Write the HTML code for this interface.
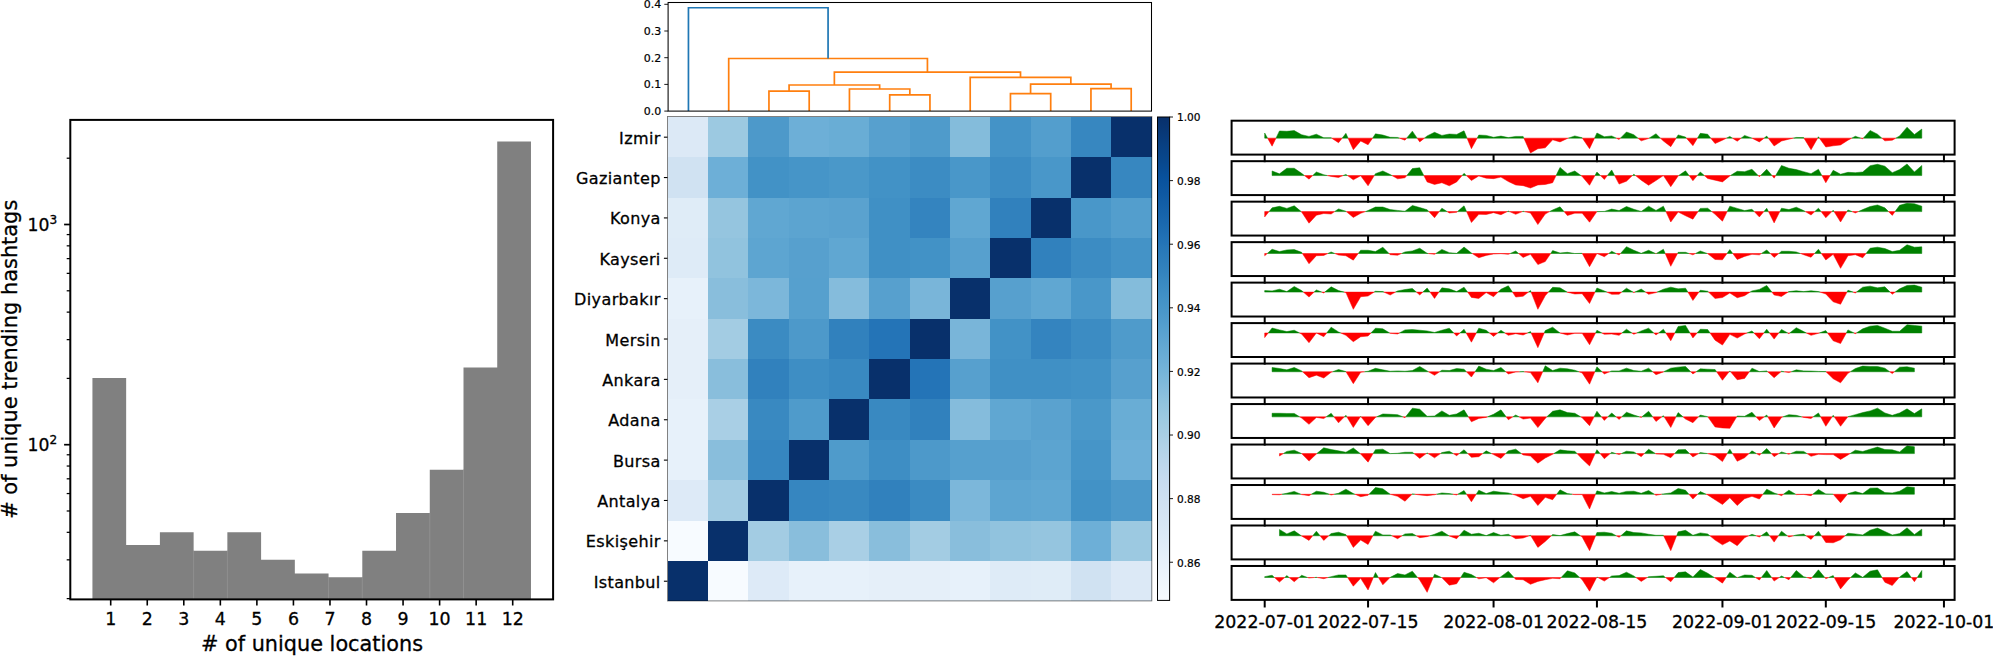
<!DOCTYPE html>
<html><head><meta charset="utf-8"><title>figure</title>
<style>html,body{margin:0;padding:0;background:#fff}svg{display:block}text{fill:#000;stroke:#000;stroke-width:0.3px}</style>
</head><body><svg width="1993" height="656" viewBox="0 0 1993 656"><path d="M92.43 599.40L92.43 377.94L126.16 377.94L126.16 545.10L159.90 545.10L159.90 532.33L193.63 532.33L193.63 550.72L227.36 550.72L227.36 532.33L261.10 532.33L261.10 559.84L294.83 559.84L294.83 573.52L328.56 573.52L328.56 577.27L362.30 577.27L362.30 550.72L396.03 550.72L396.03 512.92L429.77 512.92L429.77 469.69L463.50 469.69L463.50 367.58L497.23 367.58L497.23 141.58L530.97 141.58L530.97 599.40Z" fill="#808080"/>
<line x1="193.63" x2="193.63" y1="550.72" y2="599.40" stroke="#9a9a9a" stroke-width="0.6"/>
<line x1="227.36" x2="227.36" y1="550.72" y2="599.40" stroke="#9a9a9a" stroke-width="0.6"/>
<line x1="328.56" x2="328.56" y1="577.27" y2="599.40" stroke="#9a9a9a" stroke-width="0.6"/>
<line x1="362.30" x2="362.30" y1="577.27" y2="599.40" stroke="#9a9a9a" stroke-width="0.6"/>
<line x1="429.77" x2="429.77" y1="512.92" y2="599.40" stroke="#9a9a9a" stroke-width="0.6"/>
<line x1="463.50" x2="463.50" y1="469.69" y2="599.40" stroke="#9a9a9a" stroke-width="0.6"/>
<line x1="110.70" x2="110.70" y1="599.40" y2="605.50" stroke="#000" stroke-width="1.6"/>
<text x="110.70" y="624.9" font-size="17.4" text-anchor="middle" font-family="DejaVu Sans, Liberation Sans, sans-serif">1</text>
<line x1="147.25" x2="147.25" y1="599.40" y2="605.50" stroke="#000" stroke-width="1.6"/>
<text x="147.25" y="624.9" font-size="17.4" text-anchor="middle" font-family="DejaVu Sans, Liberation Sans, sans-serif">2</text>
<line x1="183.79" x2="183.79" y1="599.40" y2="605.50" stroke="#000" stroke-width="1.6"/>
<text x="183.79" y="624.9" font-size="17.4" text-anchor="middle" font-family="DejaVu Sans, Liberation Sans, sans-serif">3</text>
<line x1="220.34" x2="220.34" y1="599.40" y2="605.50" stroke="#000" stroke-width="1.6"/>
<text x="220.34" y="624.9" font-size="17.4" text-anchor="middle" font-family="DejaVu Sans, Liberation Sans, sans-serif">4</text>
<line x1="256.88" x2="256.88" y1="599.40" y2="605.50" stroke="#000" stroke-width="1.6"/>
<text x="256.88" y="624.9" font-size="17.4" text-anchor="middle" font-family="DejaVu Sans, Liberation Sans, sans-serif">5</text>
<line x1="293.43" x2="293.43" y1="599.40" y2="605.50" stroke="#000" stroke-width="1.6"/>
<text x="293.43" y="624.9" font-size="17.4" text-anchor="middle" font-family="DejaVu Sans, Liberation Sans, sans-serif">6</text>
<line x1="329.97" x2="329.97" y1="599.40" y2="605.50" stroke="#000" stroke-width="1.6"/>
<text x="329.97" y="624.9" font-size="17.4" text-anchor="middle" font-family="DejaVu Sans, Liberation Sans, sans-serif">7</text>
<line x1="366.51" x2="366.51" y1="599.40" y2="605.50" stroke="#000" stroke-width="1.6"/>
<text x="366.51" y="624.9" font-size="17.4" text-anchor="middle" font-family="DejaVu Sans, Liberation Sans, sans-serif">8</text>
<line x1="403.06" x2="403.06" y1="599.40" y2="605.50" stroke="#000" stroke-width="1.6"/>
<text x="403.06" y="624.9" font-size="17.4" text-anchor="middle" font-family="DejaVu Sans, Liberation Sans, sans-serif">9</text>
<line x1="439.61" x2="439.61" y1="599.40" y2="605.50" stroke="#000" stroke-width="1.6"/>
<text x="439.61" y="624.9" font-size="17.4" text-anchor="middle" font-family="DejaVu Sans, Liberation Sans, sans-serif">10</text>
<line x1="476.15" x2="476.15" y1="599.40" y2="605.50" stroke="#000" stroke-width="1.6"/>
<text x="476.15" y="624.9" font-size="17.4" text-anchor="middle" font-family="DejaVu Sans, Liberation Sans, sans-serif">11</text>
<line x1="512.70" x2="512.70" y1="599.40" y2="605.50" stroke="#000" stroke-width="1.6"/>
<text x="512.70" y="624.9" font-size="17.4" text-anchor="middle" font-family="DejaVu Sans, Liberation Sans, sans-serif">12</text>
<line x1="64.10" x2="70.30" y1="444.70" y2="444.70" stroke="#000" stroke-width="1.7"/>
<text x="27.6" y="451.00" font-size="17.2" font-family="DejaVu Sans, Liberation Sans, sans-serif">10<tspan dy="-6.6" font-size="12.1">2</tspan></text>
<line x1="64.10" x2="70.30" y1="224.50" y2="224.50" stroke="#000" stroke-width="1.7"/>
<text x="27.6" y="230.80" font-size="17.2" font-family="DejaVu Sans, Liberation Sans, sans-serif">10<tspan dy="-6.6" font-size="12.1">3</tspan></text>
<line x1="66.70" x2="70.30" y1="598.61" y2="598.61" stroke="#000" stroke-width="1.25"/>
<line x1="66.70" x2="70.30" y1="559.84" y2="559.84" stroke="#000" stroke-width="1.25"/>
<line x1="66.70" x2="70.30" y1="532.33" y2="532.33" stroke="#000" stroke-width="1.25"/>
<line x1="66.70" x2="70.30" y1="510.99" y2="510.99" stroke="#000" stroke-width="1.25"/>
<line x1="66.70" x2="70.30" y1="493.55" y2="493.55" stroke="#000" stroke-width="1.25"/>
<line x1="66.70" x2="70.30" y1="478.81" y2="478.81" stroke="#000" stroke-width="1.25"/>
<line x1="66.70" x2="70.30" y1="466.04" y2="466.04" stroke="#000" stroke-width="1.25"/>
<line x1="66.70" x2="70.30" y1="454.78" y2="454.78" stroke="#000" stroke-width="1.25"/>
<line x1="66.70" x2="70.30" y1="378.41" y2="378.41" stroke="#000" stroke-width="1.25"/>
<line x1="66.70" x2="70.30" y1="339.64" y2="339.64" stroke="#000" stroke-width="1.25"/>
<line x1="66.70" x2="70.30" y1="312.13" y2="312.13" stroke="#000" stroke-width="1.25"/>
<line x1="66.70" x2="70.30" y1="290.79" y2="290.79" stroke="#000" stroke-width="1.25"/>
<line x1="66.70" x2="70.30" y1="273.35" y2="273.35" stroke="#000" stroke-width="1.25"/>
<line x1="66.70" x2="70.30" y1="258.61" y2="258.61" stroke="#000" stroke-width="1.25"/>
<line x1="66.70" x2="70.30" y1="245.84" y2="245.84" stroke="#000" stroke-width="1.25"/>
<line x1="66.70" x2="70.30" y1="234.58" y2="234.58" stroke="#000" stroke-width="1.25"/>
<line x1="66.70" x2="70.30" y1="158.21" y2="158.21" stroke="#000" stroke-width="1.25"/>
<rect x="70.30" y="119.90" width="482.80" height="479.50" fill="none" stroke="#000" stroke-width="2.0"/>
<text x="312" y="650.7" font-size="20.8" text-anchor="middle" font-family="DejaVu Sans, Liberation Sans, sans-serif"># of unique locations</text>
<text transform="translate(16.9,359.3) rotate(-90)" font-size="20.9" text-anchor="middle" font-family="DejaVu Sans, Liberation Sans, sans-serif"># of unique trending hashtags</text>
<path d="M768.95 111.10V91.10H809.20V111.10" fill="none" stroke="#ff7f0e" stroke-width="1.7" stroke-linejoin="miter"/>
<path d="M889.70 111.10V94.89H929.95V111.10" fill="none" stroke="#ff7f0e" stroke-width="1.7" stroke-linejoin="miter"/>
<path d="M849.45 111.10V88.99H909.83V94.89" fill="none" stroke="#ff7f0e" stroke-width="1.7" stroke-linejoin="miter"/>
<path d="M789.08 91.10V85.01H879.64V88.99" fill="none" stroke="#ff7f0e" stroke-width="1.7" stroke-linejoin="miter"/>
<path d="M1010.45 111.10V93.58H1050.70V111.10" fill="none" stroke="#ff7f0e" stroke-width="1.7" stroke-linejoin="miter"/>
<path d="M1090.95 111.10V88.62H1131.20V111.10" fill="none" stroke="#ff7f0e" stroke-width="1.7" stroke-linejoin="miter"/>
<path d="M1030.58 93.58V84.05H1111.08V88.62" fill="none" stroke="#ff7f0e" stroke-width="1.7" stroke-linejoin="miter"/>
<path d="M970.20 111.10V77.40H1070.83V84.05" fill="none" stroke="#ff7f0e" stroke-width="1.7" stroke-linejoin="miter"/>
<path d="M834.36 85.01V72.20H1020.51V77.40" fill="none" stroke="#ff7f0e" stroke-width="1.7" stroke-linejoin="miter"/>
<path d="M728.70 111.10V58.50H927.43V72.20" fill="none" stroke="#ff7f0e" stroke-width="1.7" stroke-linejoin="miter"/>
<path d="M688.45 111.10V7.77H828.07V58.50" fill="none" stroke="#1f77b4" stroke-width="1.7" stroke-linejoin="miter"/>
<rect x="668.10" y="2.50" width="483.40" height="108.60" fill="none" stroke="#000" stroke-width="1.05"/>
<line x1="664.30" x2="668.10" y1="111.10" y2="111.10" stroke="#000" stroke-width="0.9"/>
<text x="661.20" y="115.10" font-size="11" style="stroke-width:0.2px" text-anchor="end" font-family="DejaVu Sans, Liberation Sans, sans-serif">0.0</text>
<line x1="664.30" x2="668.10" y1="84.40" y2="84.40" stroke="#000" stroke-width="0.9"/>
<text x="661.20" y="88.40" font-size="11" style="stroke-width:0.2px" text-anchor="end" font-family="DejaVu Sans, Liberation Sans, sans-serif">0.1</text>
<line x1="664.30" x2="668.10" y1="57.70" y2="57.70" stroke="#000" stroke-width="0.9"/>
<text x="661.20" y="61.70" font-size="11" style="stroke-width:0.2px" text-anchor="end" font-family="DejaVu Sans, Liberation Sans, sans-serif">0.2</text>
<line x1="664.30" x2="668.10" y1="31.00" y2="31.00" stroke="#000" stroke-width="0.9"/>
<text x="661.20" y="35.00" font-size="11" style="stroke-width:0.2px" text-anchor="end" font-family="DejaVu Sans, Liberation Sans, sans-serif">0.3</text>
<line x1="664.30" x2="668.10" y1="4.30" y2="4.30" stroke="#000" stroke-width="0.9"/>
<text x="661.20" y="8.30" font-size="11" style="stroke-width:0.2px" text-anchor="end" font-family="DejaVu Sans, Liberation Sans, sans-serif">0.4</text>
<g shape-rendering="crispEdges"><rect x="667.50" y="560.53" width="40.76" height="40.77" fill="#08306b"/><rect x="707.86" y="560.53" width="40.76" height="40.77" fill="#f7fbff"/><rect x="748.22" y="560.53" width="40.76" height="40.77" fill="#ddeaf7"/><rect x="788.58" y="560.53" width="40.76" height="40.77" fill="#e7f1fa"/><rect x="828.93" y="560.53" width="40.76" height="40.77" fill="#e7f1fa"/><rect x="869.29" y="560.53" width="40.76" height="40.77" fill="#e5eff9"/><rect x="909.65" y="560.53" width="40.76" height="40.77" fill="#e5eff9"/><rect x="950.01" y="560.53" width="40.76" height="40.77" fill="#e7f1fa"/><rect x="990.37" y="560.53" width="40.76" height="40.77" fill="#deebf7"/><rect x="1030.72" y="560.53" width="40.76" height="40.77" fill="#dfecf7"/><rect x="1071.08" y="560.53" width="40.76" height="40.77" fill="#d0e2f2"/><rect x="1111.44" y="560.53" width="40.76" height="40.77" fill="#dce9f6"/><rect x="667.50" y="520.17" width="40.76" height="40.77" fill="#f7fbff"/><rect x="707.86" y="520.17" width="40.76" height="40.77" fill="#08306b"/><rect x="748.22" y="520.17" width="40.76" height="40.77" fill="#a3cce3"/><rect x="788.58" y="520.17" width="40.76" height="40.77" fill="#89bedc"/><rect x="828.93" y="520.17" width="40.76" height="40.77" fill="#a9cfe5"/><rect x="869.29" y="520.17" width="40.76" height="40.77" fill="#89bedc"/><rect x="909.65" y="520.17" width="40.76" height="40.77" fill="#a3cce3"/><rect x="950.01" y="520.17" width="40.76" height="40.77" fill="#89bedc"/><rect x="990.37" y="520.17" width="40.76" height="40.77" fill="#91c3de"/><rect x="1030.72" y="520.17" width="40.76" height="40.77" fill="#95c5df"/><rect x="1071.08" y="520.17" width="40.76" height="40.77" fill="#6dafd7"/><rect x="1111.44" y="520.17" width="40.76" height="40.77" fill="#9cc9e1"/><rect x="667.50" y="479.80" width="40.76" height="40.77" fill="#ddeaf7"/><rect x="707.86" y="479.80" width="40.76" height="40.77" fill="#a3cce3"/><rect x="748.22" y="479.80" width="40.76" height="40.77" fill="#08306b"/><rect x="788.58" y="479.80" width="40.76" height="40.77" fill="#3686c0"/><rect x="828.93" y="479.80" width="40.76" height="40.77" fill="#3989c1"/><rect x="869.29" y="479.80" width="40.76" height="40.77" fill="#3181bd"/><rect x="909.65" y="479.80" width="40.76" height="40.77" fill="#3b8bc2"/><rect x="950.01" y="479.80" width="40.76" height="40.77" fill="#7cb7da"/><rect x="990.37" y="479.80" width="40.76" height="40.77" fill="#5da5d1"/><rect x="1030.72" y="479.80" width="40.76" height="40.77" fill="#60a7d2"/><rect x="1071.08" y="479.80" width="40.76" height="40.77" fill="#4292c6"/><rect x="1111.44" y="479.80" width="40.76" height="40.77" fill="#4d99ca"/><rect x="667.50" y="439.43" width="40.76" height="40.77" fill="#e7f1fa"/><rect x="707.86" y="439.43" width="40.76" height="40.77" fill="#89bedc"/><rect x="748.22" y="439.43" width="40.76" height="40.77" fill="#3686c0"/><rect x="788.58" y="439.43" width="40.76" height="40.77" fill="#08306b"/><rect x="828.93" y="439.43" width="40.76" height="40.77" fill="#4f9bcb"/><rect x="869.29" y="439.43" width="40.76" height="40.77" fill="#3e8ec4"/><rect x="909.65" y="439.43" width="40.76" height="40.77" fill="#4d99ca"/><rect x="950.01" y="439.43" width="40.76" height="40.77" fill="#56a0ce"/><rect x="990.37" y="439.43" width="40.76" height="40.77" fill="#57a0ce"/><rect x="1030.72" y="439.43" width="40.76" height="40.77" fill="#5ca4d0"/><rect x="1071.08" y="439.43" width="40.76" height="40.77" fill="#4695c8"/><rect x="1111.44" y="439.43" width="40.76" height="40.77" fill="#6dafd7"/><rect x="667.50" y="399.07" width="40.76" height="40.77" fill="#e7f1fa"/><rect x="707.86" y="399.07" width="40.76" height="40.77" fill="#a9cfe5"/><rect x="748.22" y="399.07" width="40.76" height="40.77" fill="#3989c1"/><rect x="788.58" y="399.07" width="40.76" height="40.77" fill="#4f9bcb"/><rect x="828.93" y="399.07" width="40.76" height="40.77" fill="#08306b"/><rect x="869.29" y="399.07" width="40.76" height="40.77" fill="#3989c1"/><rect x="909.65" y="399.07" width="40.76" height="40.77" fill="#3181bd"/><rect x="950.01" y="399.07" width="40.76" height="40.77" fill="#85bcdc"/><rect x="990.37" y="399.07" width="40.76" height="40.77" fill="#60a7d2"/><rect x="1030.72" y="399.07" width="40.76" height="40.77" fill="#5aa2cf"/><rect x="1071.08" y="399.07" width="40.76" height="40.77" fill="#4a98c9"/><rect x="1111.44" y="399.07" width="40.76" height="40.77" fill="#69add5"/><rect x="667.50" y="358.70" width="40.76" height="40.77" fill="#e5eff9"/><rect x="707.86" y="358.70" width="40.76" height="40.77" fill="#89bedc"/><rect x="748.22" y="358.70" width="40.76" height="40.77" fill="#3181bd"/><rect x="788.58" y="358.70" width="40.76" height="40.77" fill="#3e8ec4"/><rect x="828.93" y="358.70" width="40.76" height="40.77" fill="#3989c1"/><rect x="869.29" y="358.70" width="40.76" height="40.77" fill="#08306b"/><rect x="909.65" y="358.70" width="40.76" height="40.77" fill="#2474b7"/><rect x="950.01" y="358.70" width="40.76" height="40.77" fill="#57a0ce"/><rect x="990.37" y="358.70" width="40.76" height="40.77" fill="#4090c5"/><rect x="1030.72" y="358.70" width="40.76" height="40.77" fill="#4090c5"/><rect x="1071.08" y="358.70" width="40.76" height="40.77" fill="#4292c6"/><rect x="1111.44" y="358.70" width="40.76" height="40.77" fill="#57a0ce"/><rect x="667.50" y="318.33" width="40.76" height="40.77" fill="#e5eff9"/><rect x="707.86" y="318.33" width="40.76" height="40.77" fill="#a3cce3"/><rect x="748.22" y="318.33" width="40.76" height="40.77" fill="#3b8bc2"/><rect x="788.58" y="318.33" width="40.76" height="40.77" fill="#4d99ca"/><rect x="828.93" y="318.33" width="40.76" height="40.77" fill="#3181bd"/><rect x="869.29" y="318.33" width="40.76" height="40.77" fill="#2474b7"/><rect x="909.65" y="318.33" width="40.76" height="40.77" fill="#08306b"/><rect x="950.01" y="318.33" width="40.76" height="40.77" fill="#79b5d9"/><rect x="990.37" y="318.33" width="40.76" height="40.77" fill="#4292c6"/><rect x="1030.72" y="318.33" width="40.76" height="40.77" fill="#3484bf"/><rect x="1071.08" y="318.33" width="40.76" height="40.77" fill="#3c8cc3"/><rect x="1111.44" y="318.33" width="40.76" height="40.77" fill="#4f9bcb"/><rect x="667.50" y="277.97" width="40.76" height="40.77" fill="#e7f1fa"/><rect x="707.86" y="277.97" width="40.76" height="40.77" fill="#89bedc"/><rect x="748.22" y="277.97" width="40.76" height="40.77" fill="#7cb7da"/><rect x="788.58" y="277.97" width="40.76" height="40.77" fill="#56a0ce"/><rect x="828.93" y="277.97" width="40.76" height="40.77" fill="#85bcdc"/><rect x="869.29" y="277.97" width="40.76" height="40.77" fill="#57a0ce"/><rect x="909.65" y="277.97" width="40.76" height="40.77" fill="#79b5d9"/><rect x="950.01" y="277.97" width="40.76" height="40.77" fill="#08306b"/><rect x="990.37" y="277.97" width="40.76" height="40.77" fill="#57a0ce"/><rect x="1030.72" y="277.97" width="40.76" height="40.77" fill="#60a7d2"/><rect x="1071.08" y="277.97" width="40.76" height="40.77" fill="#4997c9"/><rect x="1111.44" y="277.97" width="40.76" height="40.77" fill="#84bcdb"/><rect x="667.50" y="237.60" width="40.76" height="40.77" fill="#deebf7"/><rect x="707.86" y="237.60" width="40.76" height="40.77" fill="#91c3de"/><rect x="748.22" y="237.60" width="40.76" height="40.77" fill="#5da5d1"/><rect x="788.58" y="237.60" width="40.76" height="40.77" fill="#57a0ce"/><rect x="828.93" y="237.60" width="40.76" height="40.77" fill="#60a7d2"/><rect x="869.29" y="237.60" width="40.76" height="40.77" fill="#4090c5"/><rect x="909.65" y="237.60" width="40.76" height="40.77" fill="#4292c6"/><rect x="950.01" y="237.60" width="40.76" height="40.77" fill="#57a0ce"/><rect x="990.37" y="237.60" width="40.76" height="40.77" fill="#08306b"/><rect x="1030.72" y="237.60" width="40.76" height="40.77" fill="#3181bd"/><rect x="1071.08" y="237.60" width="40.76" height="40.77" fill="#3c8cc3"/><rect x="1111.44" y="237.60" width="40.76" height="40.77" fill="#4493c7"/><rect x="667.50" y="197.23" width="40.76" height="40.77" fill="#dfecf7"/><rect x="707.86" y="197.23" width="40.76" height="40.77" fill="#95c5df"/><rect x="748.22" y="197.23" width="40.76" height="40.77" fill="#60a7d2"/><rect x="788.58" y="197.23" width="40.76" height="40.77" fill="#5ca4d0"/><rect x="828.93" y="197.23" width="40.76" height="40.77" fill="#5aa2cf"/><rect x="869.29" y="197.23" width="40.76" height="40.77" fill="#4090c5"/><rect x="909.65" y="197.23" width="40.76" height="40.77" fill="#3484bf"/><rect x="950.01" y="197.23" width="40.76" height="40.77" fill="#60a7d2"/><rect x="990.37" y="197.23" width="40.76" height="40.77" fill="#3181bd"/><rect x="1030.72" y="197.23" width="40.76" height="40.77" fill="#08306b"/><rect x="1071.08" y="197.23" width="40.76" height="40.77" fill="#4997c9"/><rect x="1111.44" y="197.23" width="40.76" height="40.77" fill="#539ecd"/><rect x="667.50" y="156.87" width="40.76" height="40.77" fill="#d0e2f2"/><rect x="707.86" y="156.87" width="40.76" height="40.77" fill="#6dafd7"/><rect x="748.22" y="156.87" width="40.76" height="40.77" fill="#4292c6"/><rect x="788.58" y="156.87" width="40.76" height="40.77" fill="#4695c8"/><rect x="828.93" y="156.87" width="40.76" height="40.77" fill="#4a98c9"/><rect x="869.29" y="156.87" width="40.76" height="40.77" fill="#4292c6"/><rect x="909.65" y="156.87" width="40.76" height="40.77" fill="#3c8cc3"/><rect x="950.01" y="156.87" width="40.76" height="40.77" fill="#4997c9"/><rect x="990.37" y="156.87" width="40.76" height="40.77" fill="#3c8cc3"/><rect x="1030.72" y="156.87" width="40.76" height="40.77" fill="#4997c9"/><rect x="1071.08" y="156.87" width="40.76" height="40.77" fill="#08306b"/><rect x="1111.44" y="156.87" width="40.76" height="40.77" fill="#3787c0"/><rect x="667.50" y="116.50" width="40.76" height="40.77" fill="#dce9f6"/><rect x="707.86" y="116.50" width="40.76" height="40.77" fill="#9cc9e1"/><rect x="748.22" y="116.50" width="40.76" height="40.77" fill="#4d99ca"/><rect x="788.58" y="116.50" width="40.76" height="40.77" fill="#6dafd7"/><rect x="828.93" y="116.50" width="40.76" height="40.77" fill="#69add5"/><rect x="869.29" y="116.50" width="40.76" height="40.77" fill="#57a0ce"/><rect x="909.65" y="116.50" width="40.76" height="40.77" fill="#4f9bcb"/><rect x="950.01" y="116.50" width="40.76" height="40.77" fill="#84bcdb"/><rect x="990.37" y="116.50" width="40.76" height="40.77" fill="#4493c7"/><rect x="1030.72" y="116.50" width="40.76" height="40.77" fill="#539ecd"/><rect x="1071.08" y="116.50" width="40.76" height="40.77" fill="#3787c0"/><rect x="1111.44" y="116.50" width="40.76" height="40.77" fill="#08306b"/></g>
<rect x="667.50" y="116.50" width="484.30" height="484.40" fill="none" stroke="#000" stroke-opacity="0.55" stroke-width="0.9"/>
<line x1="663.90" x2="667.50" y1="581.22" y2="581.22" stroke="#000" stroke-width="1.1"/>
<text x="660.70" y="587.72" font-size="16" letter-spacing="0.37" text-anchor="end" font-family="DejaVu Sans, Liberation Sans, sans-serif">Istanbul</text>
<line x1="663.90" x2="667.50" y1="540.85" y2="540.85" stroke="#000" stroke-width="1.1"/>
<text x="660.70" y="547.35" font-size="16" letter-spacing="0.37" text-anchor="end" font-family="DejaVu Sans, Liberation Sans, sans-serif">Eskişehir</text>
<line x1="663.90" x2="667.50" y1="500.48" y2="500.48" stroke="#000" stroke-width="1.1"/>
<text x="660.70" y="506.98" font-size="16" letter-spacing="0.37" text-anchor="end" font-family="DejaVu Sans, Liberation Sans, sans-serif">Antalya</text>
<line x1="663.90" x2="667.50" y1="460.12" y2="460.12" stroke="#000" stroke-width="1.1"/>
<text x="660.70" y="466.62" font-size="16" letter-spacing="0.37" text-anchor="end" font-family="DejaVu Sans, Liberation Sans, sans-serif">Bursa</text>
<line x1="663.90" x2="667.50" y1="419.75" y2="419.75" stroke="#000" stroke-width="1.1"/>
<text x="660.70" y="426.25" font-size="16" letter-spacing="0.37" text-anchor="end" font-family="DejaVu Sans, Liberation Sans, sans-serif">Adana</text>
<line x1="663.90" x2="667.50" y1="379.38" y2="379.38" stroke="#000" stroke-width="1.1"/>
<text x="660.70" y="385.88" font-size="16" letter-spacing="0.37" text-anchor="end" font-family="DejaVu Sans, Liberation Sans, sans-serif">Ankara</text>
<line x1="663.90" x2="667.50" y1="339.02" y2="339.02" stroke="#000" stroke-width="1.1"/>
<text x="660.70" y="345.52" font-size="16" letter-spacing="0.37" text-anchor="end" font-family="DejaVu Sans, Liberation Sans, sans-serif">Mersin</text>
<line x1="663.90" x2="667.50" y1="298.65" y2="298.65" stroke="#000" stroke-width="1.1"/>
<text x="660.70" y="305.15" font-size="16" letter-spacing="0.37" text-anchor="end" font-family="DejaVu Sans, Liberation Sans, sans-serif">Diyarbakır</text>
<line x1="663.90" x2="667.50" y1="258.28" y2="258.28" stroke="#000" stroke-width="1.1"/>
<text x="660.70" y="264.78" font-size="16" letter-spacing="0.37" text-anchor="end" font-family="DejaVu Sans, Liberation Sans, sans-serif">Kayseri</text>
<line x1="663.90" x2="667.50" y1="217.92" y2="217.92" stroke="#000" stroke-width="1.1"/>
<text x="660.70" y="224.42" font-size="16" letter-spacing="0.37" text-anchor="end" font-family="DejaVu Sans, Liberation Sans, sans-serif">Konya</text>
<line x1="663.90" x2="667.50" y1="177.55" y2="177.55" stroke="#000" stroke-width="1.1"/>
<text x="660.70" y="184.05" font-size="16" letter-spacing="0.37" text-anchor="end" font-family="DejaVu Sans, Liberation Sans, sans-serif">Gaziantep</text>
<line x1="663.90" x2="667.50" y1="137.18" y2="137.18" stroke="#000" stroke-width="1.1"/>
<text x="660.70" y="143.68" font-size="16" letter-spacing="0.37" text-anchor="end" font-family="DejaVu Sans, Liberation Sans, sans-serif">Izmir</text>
<defs><linearGradient id="cb" x1="0" y1="1" x2="0" y2="0"><stop offset="0.0000" stop-color="#f7fbff"/><stop offset="0.0312" stop-color="#f1f7fd"/><stop offset="0.0625" stop-color="#ebf3fb"/><stop offset="0.0938" stop-color="#e5eff9"/><stop offset="0.1250" stop-color="#deebf7"/><stop offset="0.1562" stop-color="#d8e7f5"/><stop offset="0.1875" stop-color="#d3e3f3"/><stop offset="0.2188" stop-color="#cddff1"/><stop offset="0.2500" stop-color="#c6dbef"/><stop offset="0.2812" stop-color="#bdd7ec"/><stop offset="0.3125" stop-color="#b3d3e8"/><stop offset="0.3438" stop-color="#a8cee4"/><stop offset="0.3750" stop-color="#9dcae1"/><stop offset="0.4062" stop-color="#92c4de"/><stop offset="0.4375" stop-color="#85bcdc"/><stop offset="0.4688" stop-color="#77b5d9"/><stop offset="0.5000" stop-color="#6caed6"/><stop offset="0.5312" stop-color="#61a7d2"/><stop offset="0.5625" stop-color="#56a0ce"/><stop offset="0.5938" stop-color="#4b98ca"/><stop offset="0.6250" stop-color="#4292c6"/><stop offset="0.6562" stop-color="#3a8ac2"/><stop offset="0.6875" stop-color="#3181bd"/><stop offset="0.7188" stop-color="#2a7ab9"/><stop offset="0.7500" stop-color="#2171b5"/><stop offset="0.7812" stop-color="#1a68ae"/><stop offset="0.8125" stop-color="#1460a8"/><stop offset="0.8438" stop-color="#0e58a2"/><stop offset="0.8750" stop-color="#08519c"/><stop offset="0.9062" stop-color="#08488e"/><stop offset="0.9375" stop-color="#084184"/><stop offset="0.9688" stop-color="#083877"/><stop offset="1.0000" stop-color="#08306b"/></linearGradient></defs>
<rect x="1157.50" y="117.00" width="12.10" height="483.40" fill="url(#cb)" stroke="#000" stroke-width="1.0"/>
<line x1="1169.60" x2="1173.00" y1="117.00" y2="117.00" stroke="#000" stroke-width="0.9"/>
<text x="1177.00" y="121.30" font-size="10.6" style="stroke-width:0.2px" font-family="DejaVu Sans, Liberation Sans, sans-serif">1.00</text>
<line x1="1169.60" x2="1173.00" y1="180.61" y2="180.61" stroke="#000" stroke-width="0.9"/>
<text x="1177.00" y="184.91" font-size="10.6" style="stroke-width:0.2px" font-family="DejaVu Sans, Liberation Sans, sans-serif">0.98</text>
<line x1="1169.60" x2="1173.00" y1="244.21" y2="244.21" stroke="#000" stroke-width="0.9"/>
<text x="1177.00" y="248.51" font-size="10.6" style="stroke-width:0.2px" font-family="DejaVu Sans, Liberation Sans, sans-serif">0.96</text>
<line x1="1169.60" x2="1173.00" y1="307.82" y2="307.82" stroke="#000" stroke-width="0.9"/>
<text x="1177.00" y="312.12" font-size="10.6" style="stroke-width:0.2px" font-family="DejaVu Sans, Liberation Sans, sans-serif">0.94</text>
<line x1="1169.60" x2="1173.00" y1="371.42" y2="371.42" stroke="#000" stroke-width="0.9"/>
<text x="1177.00" y="375.72" font-size="10.6" style="stroke-width:0.2px" font-family="DejaVu Sans, Liberation Sans, sans-serif">0.92</text>
<line x1="1169.60" x2="1173.00" y1="435.03" y2="435.03" stroke="#000" stroke-width="0.9"/>
<text x="1177.00" y="439.33" font-size="10.6" style="stroke-width:0.2px" font-family="DejaVu Sans, Liberation Sans, sans-serif">0.90</text>
<line x1="1169.60" x2="1173.00" y1="498.63" y2="498.63" stroke="#000" stroke-width="0.9"/>
<text x="1177.00" y="502.93" font-size="10.6" style="stroke-width:0.2px" font-family="DejaVu Sans, Liberation Sans, sans-serif">0.88</text>
<line x1="1169.60" x2="1173.00" y1="562.24" y2="562.24" stroke="#000" stroke-width="0.9"/>
<text x="1177.00" y="566.54" font-size="10.6" style="stroke-width:0.2px" font-family="DejaVu Sans, Liberation Sans, sans-serif">0.86</text>
<path d="M1264.70 138.13L1264.70 133.01L1267.58 138.13L1267.58 138.13ZM1275.98 138.13L1275.98 138.13L1279.47 130.96L1286.85 131.31L1294.23 130.62L1301.62 134.72L1309.00 136.42L1316.38 134.21L1323.76 137.79L1331.15 137.79L1331.66 138.13L1331.66 138.13ZM1342.15 138.13L1342.15 138.13L1345.91 133.35L1348.07 138.13L1348.07 138.13ZM1372.56 138.13L1372.56 138.13L1375.45 133.86L1382.83 135.06L1390.21 137.28L1397.59 137.45L1399.43 138.13L1399.43 138.13ZM1406.65 138.13L1406.65 138.13L1412.36 131.14L1417.16 138.13L1417.16 138.13ZM1424.38 138.13L1424.38 138.13L1427.13 135.91L1434.51 132.33L1441.89 135.40L1449.28 134.04L1456.66 134.38L1464.04 130.79L1467.06 138.13L1467.06 138.13ZM1477.15 138.13L1477.15 138.13L1478.81 135.06L1486.19 135.40L1493.57 137.28L1500.96 136.08L1508.34 137.62L1515.72 136.42L1523.11 136.42L1523.87 138.13L1523.87 138.13ZM1568.38 138.13L1568.38 138.13L1574.79 135.91L1582.17 137.79L1582.40 138.13L1582.40 138.13ZM1594.52 138.13L1594.52 138.13L1596.93 133.01L1604.32 136.76L1611.70 135.91L1616.28 138.13L1616.28 138.13ZM1620.42 138.13L1620.42 138.13L1626.47 131.99L1633.85 134.72L1637.95 138.13L1637.95 138.13ZM1649.14 138.13L1649.14 138.13L1656.00 133.69L1660.46 138.13L1660.46 138.13ZM1676.12 138.13L1676.12 138.13L1678.15 134.89L1685.53 137.11L1686.41 138.13L1686.41 138.13ZM1697.43 138.13L1697.43 138.13L1700.30 133.35L1707.68 134.21L1710.76 138.13L1710.76 138.13ZM1726.47 138.13L1726.47 138.13L1729.83 136.42L1732.47 138.13L1732.47 138.13ZM1741.12 138.13L1741.12 138.13L1744.60 135.40L1751.98 138.13L1751.98 138.13ZM1764.13 138.13L1764.13 138.13L1766.74 136.08L1768.27 138.13L1768.27 138.13ZM1793.32 138.13L1793.32 138.13L1796.28 137.45L1803.66 137.62L1803.97 138.13L1803.97 138.13ZM1817.65 138.13L1817.65 138.13L1818.43 136.76L1819.42 138.13L1819.42 138.13ZM1851.81 138.13L1851.81 138.13L1855.34 136.25L1860.76 138.13L1860.76 138.13ZM1863.32 138.13L1863.32 138.13L1870.11 130.45L1877.49 134.21L1881.84 138.13L1881.84 138.13ZM1895.80 138.13L1895.80 138.13L1899.64 135.91L1907.02 127.21L1914.40 134.55L1921.79 129.09L1921.79 138.13Z" fill="#008000" stroke="#008000" stroke-width="0.5" stroke-linejoin="round"/>
<path d="M1267.58 138.13L1267.58 138.13L1272.08 146.15L1275.98 138.13L1275.98 138.13ZM1331.66 138.13L1331.66 138.13L1338.53 142.74L1342.15 138.13L1342.15 138.13ZM1348.07 138.13L1348.07 138.13L1353.30 149.73L1360.68 141.03L1368.06 144.78L1372.56 138.13L1372.56 138.13ZM1399.43 138.13L1399.43 138.13L1404.98 140.18L1406.65 138.13L1406.65 138.13ZM1417.16 138.13L1417.16 138.13L1419.74 141.88L1424.38 138.13L1424.38 138.13ZM1467.06 138.13L1467.06 138.13L1471.42 148.71L1477.15 138.13L1477.15 138.13ZM1523.87 138.13L1523.87 138.13L1530.49 152.97L1537.87 148.71L1545.25 147.85L1552.64 139.84L1560.02 141.88L1567.40 138.47L1568.38 138.13L1568.38 138.13ZM1582.40 138.13L1582.40 138.13L1589.55 148.71L1594.52 138.13L1594.52 138.13ZM1616.28 138.13L1616.28 138.13L1619.08 139.49L1620.42 138.13L1620.42 138.13ZM1637.95 138.13L1637.95 138.13L1641.23 140.86L1648.62 138.47L1649.14 138.13L1649.14 138.13ZM1660.46 138.13L1660.46 138.13L1663.38 141.03L1670.77 146.66L1676.12 138.13L1676.12 138.13ZM1686.41 138.13L1686.41 138.13L1692.91 145.64L1697.43 138.13L1697.43 138.13ZM1710.76 138.13L1710.76 138.13L1715.06 143.59L1722.45 140.18L1726.47 138.13L1726.47 138.13ZM1732.47 138.13L1732.47 138.13L1737.21 141.20L1741.12 138.13L1741.12 138.13ZM1751.98 138.13L1751.98 138.13L1759.36 141.88L1764.13 138.13L1764.13 138.13ZM1768.27 138.13L1768.27 138.13L1774.13 145.98L1781.51 141.03L1788.89 139.15L1793.32 138.13L1793.32 138.13ZM1803.97 138.13L1803.97 138.13L1811.04 149.73L1817.65 138.13L1817.65 138.13ZM1819.42 138.13L1819.42 138.13L1825.81 147.00L1833.19 145.81L1840.57 144.95L1847.96 140.18L1851.81 138.13L1851.81 138.13ZM1860.76 138.13L1860.76 138.13L1862.72 138.81L1863.32 138.13L1863.32 138.13ZM1881.84 138.13L1881.84 138.13L1884.87 140.86L1892.26 140.18L1895.80 138.13L1895.80 138.13Z" fill="#ff0000" stroke="#ff0000" stroke-width="0.5" stroke-linejoin="round"/>
<line x1="1264.70" x2="1264.70" y1="154.60" y2="162.20" stroke="#000" stroke-width="2.0"/>
<line x1="1368.06" x2="1368.06" y1="154.60" y2="162.20" stroke="#000" stroke-width="2.0"/>
<line x1="1493.57" x2="1493.57" y1="154.60" y2="162.20" stroke="#000" stroke-width="2.0"/>
<line x1="1596.93" x2="1596.93" y1="154.60" y2="162.20" stroke="#000" stroke-width="2.0"/>
<line x1="1722.45" x2="1722.45" y1="154.60" y2="162.20" stroke="#000" stroke-width="2.0"/>
<line x1="1825.81" x2="1825.81" y1="154.60" y2="162.20" stroke="#000" stroke-width="2.0"/>
<line x1="1943.94" x2="1943.94" y1="154.60" y2="162.20" stroke="#000" stroke-width="2.0"/>
<rect x="1231.60" y="120.70" width="723.00" height="33.90" fill="none" stroke="#000" stroke-width="2.0"/>
<path d="M1272.08 175.57L1272.08 170.96L1279.47 173.86L1286.85 168.24L1294.23 168.24L1301.62 173.35L1304.44 175.57L1304.44 175.57ZM1312.69 175.57L1312.69 175.57L1316.38 171.99L1323.76 174.72L1327.45 175.57L1327.45 175.57ZM1343.05 175.57L1343.05 175.57L1345.91 174.38L1347.52 175.57L1347.52 175.57ZM1374.30 175.57L1374.30 175.57L1375.45 173.69L1382.83 170.96L1390.21 174.55L1391.98 175.57L1391.98 175.57ZM1406.76 175.57L1406.76 175.57L1412.36 168.58L1419.74 167.72L1423.84 175.57L1423.84 175.57ZM1462.12 175.57L1462.12 175.57L1464.04 173.35L1466.33 175.57L1466.33 175.57ZM1556.08 175.57L1556.08 175.57L1560.02 167.38L1567.40 173.69L1574.79 170.96L1581.02 175.57L1581.02 175.57ZM1594.94 175.57L1594.94 175.57L1596.93 171.99L1600.46 175.57L1600.46 175.57ZM1607.35 175.57L1607.35 175.57L1611.70 169.94L1614.63 175.57L1614.63 175.57ZM1632.41 175.57L1632.41 175.57L1633.85 174.21L1635.53 175.57L1635.53 175.57ZM1678.64 175.57L1678.64 175.57L1685.53 170.79L1689.09 175.57L1689.09 175.57ZM1697.26 175.57L1697.26 175.57L1700.30 171.99L1704.38 175.57L1704.38 175.57ZM1730.38 175.57L1730.38 175.57L1737.21 171.31L1744.60 171.65L1751.98 169.26L1758.19 175.57L1758.19 175.57ZM1760.53 175.57L1760.53 175.57L1766.74 169.26L1772.00 175.57L1772.00 175.57ZM1775.63 175.57L1775.63 175.57L1781.51 165.51L1788.89 168.24L1796.28 169.60L1803.66 171.65L1811.04 173.69L1818.43 169.26L1821.88 175.57L1821.88 175.57ZM1830.06 175.57L1830.06 175.57L1833.19 170.28L1840.57 174.21L1847.96 172.33L1855.34 172.67L1862.72 171.99L1870.11 165.68L1877.49 164.31L1884.87 166.19L1892.26 172.67L1899.64 169.60L1907.02 163.97L1914.40 171.99L1921.79 165.51L1921.79 175.57Z" fill="#008000" stroke="#008000" stroke-width="0.5" stroke-linejoin="round"/>
<path d="M1304.44 175.57L1304.44 175.57L1309.00 179.15L1312.69 175.57L1312.69 175.57ZM1327.45 175.57L1327.45 175.57L1331.15 176.42L1338.53 177.45L1343.05 175.57L1343.05 175.57ZM1347.52 175.57L1347.52 175.57L1353.30 179.84L1360.68 175.74L1368.06 185.81L1374.30 175.57L1374.30 175.57ZM1391.98 175.57L1391.98 175.57L1397.59 178.81L1404.98 177.79L1406.76 175.57L1406.76 175.57ZM1423.84 175.57L1423.84 175.57L1427.13 181.88L1434.51 184.44L1441.89 182.74L1449.28 185.81L1456.66 181.88L1462.12 175.57L1462.12 175.57ZM1466.33 175.57L1466.33 175.57L1471.42 180.52L1478.81 175.91L1486.19 178.13L1493.57 178.64L1500.96 177.11L1508.34 181.54L1515.72 184.95L1523.11 185.64L1530.49 188.02L1537.87 184.95L1545.25 184.44L1552.64 182.74L1556.08 175.57L1556.08 175.57ZM1581.02 175.57L1581.02 175.57L1582.17 176.42L1589.55 185.29L1594.94 175.57L1594.94 175.57ZM1600.46 175.57L1600.46 175.57L1604.32 179.49L1607.35 175.57L1607.35 175.57ZM1614.63 175.57L1614.63 175.57L1619.08 184.10L1626.47 181.20L1632.41 175.57L1632.41 175.57ZM1635.53 175.57L1635.53 175.57L1641.23 180.18L1648.62 185.29L1656.00 180.52L1663.38 175.57L1663.38 175.57ZM1663.38 175.57L1663.38 175.57L1670.77 186.66L1678.15 175.91L1678.64 175.57L1678.64 175.57ZM1689.09 175.57L1689.09 175.57L1692.91 180.69L1697.26 175.57L1697.26 175.57ZM1704.38 175.57L1704.38 175.57L1707.68 178.47L1715.06 180.18L1722.45 181.88L1729.83 175.91L1730.38 175.57L1730.38 175.57ZM1758.19 175.57L1758.19 175.57L1759.36 176.76L1760.53 175.57L1760.53 175.57ZM1772.00 175.57L1772.00 175.57L1774.13 178.13L1775.63 175.57L1775.63 175.57ZM1821.88 175.57L1821.88 175.57L1825.81 182.74L1830.06 175.57L1830.06 175.57Z" fill="#ff0000" stroke="#ff0000" stroke-width="0.5" stroke-linejoin="round"/>
<line x1="1264.70" x2="1264.70" y1="195.08" y2="202.68" stroke="#000" stroke-width="2.0"/>
<line x1="1368.06" x2="1368.06" y1="195.08" y2="202.68" stroke="#000" stroke-width="2.0"/>
<line x1="1493.57" x2="1493.57" y1="195.08" y2="202.68" stroke="#000" stroke-width="2.0"/>
<line x1="1596.93" x2="1596.93" y1="195.08" y2="202.68" stroke="#000" stroke-width="2.0"/>
<line x1="1722.45" x2="1722.45" y1="195.08" y2="202.68" stroke="#000" stroke-width="2.0"/>
<line x1="1825.81" x2="1825.81" y1="195.08" y2="202.68" stroke="#000" stroke-width="2.0"/>
<line x1="1943.94" x2="1943.94" y1="195.08" y2="202.68" stroke="#000" stroke-width="2.0"/>
<rect x="1231.60" y="161.18" width="723.00" height="33.90" fill="none" stroke="#000" stroke-width="2.0"/>
<path d="M1269.02 211.62L1269.02 211.62L1272.08 207.87L1279.47 206.34L1286.85 208.38L1294.23 205.82L1301.21 211.62L1301.21 211.62ZM1334.59 211.62L1334.59 211.62L1338.53 208.89L1345.91 211.28L1346.32 211.62L1346.32 211.62ZM1365.30 211.62L1365.30 211.62L1368.06 210.60L1375.45 207.02L1382.83 207.02L1390.21 209.58L1397.59 210.43L1404.98 211.28L1412.36 205.48L1419.74 207.53L1427.13 209.75L1428.85 211.62L1428.85 211.62ZM1439.25 211.62L1439.25 211.62L1441.89 208.21L1447.16 211.62L1447.16 211.62ZM1457.44 211.62L1457.44 211.62L1464.04 205.82L1466.60 211.62L1466.60 211.62ZM1507.29 211.62L1507.29 211.62L1508.34 211.11L1509.50 211.62L1509.50 211.62ZM1522.29 211.62L1522.29 211.62L1523.11 211.28L1524.58 211.62L1524.58 211.62ZM1549.57 211.62L1549.57 211.62L1552.64 209.92L1560.02 206.85L1564.07 211.62L1564.07 211.62ZM1596.93 211.62L1596.93 211.62L1604.32 211.45L1611.70 209.06L1619.08 210.60L1626.47 206.51L1633.85 209.24L1641.23 211.45L1648.62 206.16L1656.00 210.43L1663.38 206.16L1665.92 211.62L1665.92 211.62ZM1698.07 211.62L1698.07 211.62L1700.30 208.38L1707.68 208.21L1711.78 211.62L1711.78 211.62ZM1727.15 211.62L1727.15 211.62L1729.83 206.16L1737.21 208.38L1744.60 210.60L1751.98 209.24L1754.27 211.62L1754.27 211.62ZM1763.85 211.62L1763.85 211.62L1766.74 208.21L1768.46 211.62L1768.46 211.62ZM1779.79 211.62L1779.79 211.62L1781.51 208.21L1788.89 209.58L1796.28 207.19L1803.66 210.60L1805.36 211.62L1805.36 211.62ZM1814.74 211.62L1814.74 211.62L1818.43 208.21L1821.07 211.62L1821.07 211.62ZM1831.85 211.62L1831.85 211.62L1833.19 210.26L1834.04 211.62L1834.04 211.62ZM1846.92 211.62L1846.92 211.62L1847.96 209.92L1852.05 211.62L1852.05 211.62ZM1858.30 211.62L1858.30 211.62L1862.72 209.58L1870.11 206.51L1877.49 204.97L1884.87 207.87L1888.56 211.62L1888.56 211.62ZM1895.02 211.62L1895.02 211.62L1899.64 205.31L1907.02 203.26L1914.40 203.78L1921.79 206.16L1921.79 211.62Z" fill="#008000" stroke="#008000" stroke-width="0.5" stroke-linejoin="round"/>
<path d="M1264.70 211.62L1264.70 216.91L1269.02 211.62L1269.02 211.62ZM1301.21 211.62L1301.21 211.62L1301.62 211.96L1309.00 223.22L1316.38 215.21L1323.76 213.50L1331.15 214.01L1334.59 211.62L1334.59 211.62ZM1346.32 211.62L1346.32 211.62L1353.30 217.42L1360.68 213.33L1365.30 211.62L1365.30 211.62ZM1428.85 211.62L1428.85 211.62L1434.51 217.76L1439.25 211.62L1439.25 211.62ZM1447.16 211.62L1447.16 211.62L1449.28 212.99L1456.66 212.31L1457.44 211.62L1457.44 211.62ZM1466.60 211.62L1466.60 211.62L1471.42 222.54L1478.81 214.35L1486.19 214.52L1493.57 212.65L1500.96 214.69L1507.29 211.62L1507.29 211.62ZM1509.50 211.62L1509.50 211.62L1515.72 214.35L1522.29 211.62L1522.29 211.62ZM1524.58 211.62L1524.58 211.62L1530.49 212.99L1537.87 224.59L1545.25 214.01L1549.57 211.62L1549.57 211.62ZM1564.07 211.62L1564.07 211.62L1567.40 215.55L1574.79 213.16L1582.17 213.16L1589.55 222.20L1596.93 211.62L1596.93 211.62ZM1665.92 211.62L1665.92 211.62L1670.77 222.03L1678.15 211.96L1685.53 215.72L1692.91 219.13L1698.07 211.62L1698.07 211.62ZM1711.78 211.62L1711.78 211.62L1715.06 214.35L1722.45 221.18L1727.15 211.62L1727.15 211.62ZM1754.27 211.62L1754.27 211.62L1759.36 216.91L1763.85 211.62L1763.85 211.62ZM1768.46 211.62L1768.46 211.62L1774.13 222.88L1779.79 211.62L1779.79 211.62ZM1805.36 211.62L1805.36 211.62L1811.04 215.04L1814.74 211.62L1814.74 211.62ZM1821.07 211.62L1821.07 211.62L1825.81 217.76L1831.85 211.62L1831.85 211.62ZM1834.04 211.62L1834.04 211.62L1840.57 222.03L1846.92 211.62L1846.92 211.62ZM1852.05 211.62L1852.05 211.62L1855.34 212.99L1858.30 211.62L1858.30 211.62ZM1888.56 211.62L1888.56 211.62L1892.26 215.38L1895.02 211.62L1895.02 211.62Z" fill="#ff0000" stroke="#ff0000" stroke-width="0.5" stroke-linejoin="round"/>
<line x1="1264.70" x2="1264.70" y1="235.56" y2="243.16" stroke="#000" stroke-width="2.0"/>
<line x1="1368.06" x2="1368.06" y1="235.56" y2="243.16" stroke="#000" stroke-width="2.0"/>
<line x1="1493.57" x2="1493.57" y1="235.56" y2="243.16" stroke="#000" stroke-width="2.0"/>
<line x1="1596.93" x2="1596.93" y1="235.56" y2="243.16" stroke="#000" stroke-width="2.0"/>
<line x1="1722.45" x2="1722.45" y1="235.56" y2="243.16" stroke="#000" stroke-width="2.0"/>
<line x1="1825.81" x2="1825.81" y1="235.56" y2="243.16" stroke="#000" stroke-width="2.0"/>
<line x1="1943.94" x2="1943.94" y1="235.56" y2="243.16" stroke="#000" stroke-width="2.0"/>
<rect x="1231.60" y="201.66" width="723.00" height="33.90" fill="none" stroke="#000" stroke-width="2.0"/>
<path d="M1267.23 253.50L1267.23 253.50L1272.08 249.24L1279.47 251.62L1286.85 249.92L1294.23 249.58L1301.62 252.31L1302.39 253.50L1302.39 253.50ZM1327.82 253.50L1327.82 253.50L1331.15 251.96L1334.84 253.50L1334.84 253.50ZM1358.26 253.50L1358.26 253.50L1360.68 250.26L1368.06 250.26L1375.45 251.62L1382.83 247.19L1389.04 253.50L1389.04 253.50ZM1401.48 253.50L1401.48 253.50L1404.98 251.96L1412.36 250.94L1419.74 248.21L1427.13 253.33L1428.36 253.50L1428.36 253.50ZM1435.78 253.50L1435.78 253.50L1441.89 249.41L1449.28 252.65L1456.66 253.33L1464.04 247.02L1471.42 252.99L1472.21 253.50L1472.21 253.50ZM1510.18 253.50L1510.18 253.50L1515.72 250.94L1518.64 253.50L1518.64 253.50ZM1550.68 253.50L1550.68 253.50L1552.64 250.60L1560.02 252.99L1567.40 252.31L1574.79 253.50L1574.79 253.50ZM1574.79 253.50L1574.79 253.50L1582.17 253.33L1582.26 253.50L1582.26 253.50ZM1608.70 253.50L1608.70 253.50L1611.70 251.28L1616.06 253.50L1616.06 253.50ZM1620.44 253.50L1620.44 253.50L1626.47 246.68L1633.85 250.26L1641.23 253.33L1648.62 250.26L1655.63 253.50L1655.63 253.50ZM1656.28 253.50L1656.28 253.50L1663.38 249.24L1665.23 253.50L1665.23 253.50ZM1677.52 253.50L1677.52 253.50L1678.15 252.31L1685.53 252.31L1688.97 253.50L1688.97 253.50ZM1695.47 253.50L1695.47 253.50L1700.30 250.94L1707.22 253.50L1707.22 253.50ZM1727.00 253.50L1727.00 253.50L1729.83 249.58L1732.76 253.50L1732.76 253.50ZM1761.39 253.50L1761.39 253.50L1766.74 249.92L1770.27 253.50L1770.27 253.50ZM1778.84 253.50L1778.84 253.50L1781.51 251.28L1788.89 251.28L1796.28 251.96L1800.44 253.50L1800.44 253.50ZM1814.50 253.50L1814.50 253.50L1818.43 249.24L1821.36 253.50L1821.36 253.50ZM1866.02 253.50L1866.02 253.50L1870.11 248.21L1877.49 247.19L1884.87 248.55L1892.26 251.62L1899.64 250.26L1907.02 244.80L1914.40 247.19L1921.79 246.85L1921.79 253.50Z" fill="#008000" stroke="#008000" stroke-width="0.5" stroke-linejoin="round"/>
<path d="M1264.70 253.50L1264.70 255.72L1267.23 253.50L1267.23 253.50ZM1302.39 253.50L1302.39 253.50L1309.00 263.74L1316.38 255.72L1323.76 255.38L1327.82 253.50L1327.82 253.50ZM1334.84 253.50L1334.84 253.50L1338.53 255.04L1345.91 255.72L1353.30 260.15L1358.26 253.50L1358.26 253.50ZM1389.04 253.50L1389.04 253.50L1390.21 254.69L1397.59 255.21L1401.48 253.50L1401.48 253.50ZM1428.36 253.50L1428.36 253.50L1434.51 254.35L1435.78 253.50L1435.78 253.50ZM1472.21 253.50L1472.21 253.50L1478.81 257.76L1486.19 255.38L1493.57 254.01L1500.96 253.67L1508.34 254.35L1510.18 253.50L1510.18 253.50ZM1518.64 253.50L1518.64 253.50L1523.11 257.42L1530.49 254.35L1537.87 264.59L1545.25 261.52L1550.68 253.50L1550.68 253.50ZM1582.26 253.50L1582.26 253.50L1589.55 266.64L1596.93 253.50L1596.93 253.50ZM1596.93 253.50L1596.93 253.50L1604.32 256.74L1608.70 253.50L1608.70 253.50ZM1616.06 253.50L1616.06 253.50L1619.08 255.04L1620.44 253.50L1620.44 253.50ZM1655.63 253.50L1655.63 253.50L1656.00 253.67L1656.28 253.50L1656.28 253.50ZM1665.23 253.50L1665.23 253.50L1670.77 266.29L1677.52 253.50L1677.52 253.50ZM1688.97 253.50L1688.97 253.50L1692.91 254.86L1695.47 253.50L1695.47 253.50ZM1707.22 253.50L1707.22 253.50L1707.68 253.67L1715.06 259.47L1722.45 259.81L1727.00 253.50L1727.00 253.50ZM1732.76 253.50L1732.76 253.50L1737.21 259.47L1744.60 256.40L1751.98 254.35L1759.36 254.86L1761.39 253.50L1761.39 253.50ZM1770.27 253.50L1770.27 253.50L1774.13 257.42L1778.84 253.50L1778.84 253.50ZM1800.44 253.50L1800.44 253.50L1803.66 254.69L1811.04 257.25L1814.50 253.50L1814.50 253.50ZM1821.36 253.50L1821.36 253.50L1825.81 259.98L1833.19 254.35L1840.57 268.34L1847.96 255.72L1855.34 254.69L1862.72 257.76L1866.02 253.50L1866.02 253.50Z" fill="#ff0000" stroke="#ff0000" stroke-width="0.5" stroke-linejoin="round"/>
<line x1="1264.70" x2="1264.70" y1="276.04" y2="283.64" stroke="#000" stroke-width="2.0"/>
<line x1="1368.06" x2="1368.06" y1="276.04" y2="283.64" stroke="#000" stroke-width="2.0"/>
<line x1="1493.57" x2="1493.57" y1="276.04" y2="283.64" stroke="#000" stroke-width="2.0"/>
<line x1="1596.93" x2="1596.93" y1="276.04" y2="283.64" stroke="#000" stroke-width="2.0"/>
<line x1="1722.45" x2="1722.45" y1="276.04" y2="283.64" stroke="#000" stroke-width="2.0"/>
<line x1="1825.81" x2="1825.81" y1="276.04" y2="283.64" stroke="#000" stroke-width="2.0"/>
<line x1="1943.94" x2="1943.94" y1="276.04" y2="283.64" stroke="#000" stroke-width="2.0"/>
<rect x="1231.60" y="242.14" width="723.00" height="33.90" fill="none" stroke="#000" stroke-width="2.0"/>
<path d="M1264.70 292.11L1264.70 290.58L1272.08 290.92L1279.47 289.21L1286.85 291.60L1294.23 286.48L1301.62 290.58L1303.36 292.11L1303.36 292.11ZM1314.09 292.11L1314.09 292.11L1316.38 289.89L1321.72 292.11L1321.72 292.11ZM1324.78 292.11L1324.78 292.11L1331.15 286.82L1338.53 290.58L1344.07 292.11L1344.07 292.11ZM1374.14 292.11L1374.14 292.11L1375.45 291.26L1382.83 291.60L1383.93 292.11L1383.93 292.11ZM1395.44 292.11L1395.44 292.11L1397.59 290.92L1404.98 289.55L1412.36 288.53L1416.44 292.11L1416.44 292.11ZM1422.81 292.11L1422.81 292.11L1427.13 288.02L1430.03 292.11L1430.03 292.11ZM1438.92 292.11L1438.92 292.11L1441.89 287.85L1449.28 288.87L1456.66 291.60L1464.04 287.16L1467.61 292.11L1467.61 292.11ZM1498.11 292.11L1498.11 292.11L1500.96 289.21L1508.34 285.80L1512.48 292.11L1512.48 292.11ZM1528.48 292.11L1528.48 292.11L1530.49 290.58L1531.09 292.11L1531.09 292.11ZM1548.42 292.11L1548.42 292.11L1552.64 287.34L1560.02 287.85L1567.12 292.11L1567.12 292.11ZM1594.99 292.11L1594.99 292.11L1596.93 288.02L1604.32 290.92L1606.90 292.11L1606.90 292.11ZM1621.62 292.11L1621.62 292.11L1626.47 288.19L1633.00 292.11L1633.00 292.11ZM1634.90 292.11L1634.90 292.11L1641.23 289.04L1645.52 292.11L1645.52 292.11ZM1657.10 292.11L1657.10 292.11L1663.38 289.21L1670.77 287.16L1678.15 288.87L1685.53 288.19L1687.89 292.11L1687.89 292.11ZM1698.95 292.11L1698.95 292.11L1700.30 290.24L1707.68 291.26L1708.56 292.11L1708.56 292.11ZM1750.14 292.11L1750.14 292.11L1751.98 290.92L1759.36 289.38L1766.74 285.46L1771.89 292.11L1771.89 292.11ZM1788.10 292.11L1788.10 292.11L1788.89 291.60L1796.28 290.75L1803.66 291.60L1811.04 290.75L1818.43 291.60L1820.00 292.11L1820.00 292.11ZM1846.97 292.11L1846.97 292.11L1847.96 290.24L1853.03 292.11L1853.03 292.11ZM1856.42 292.11L1856.42 292.11L1862.72 287.16L1870.11 286.14L1877.49 287.85L1884.87 286.82L1890.08 292.11L1890.08 292.11ZM1895.26 292.11L1895.26 292.11L1899.64 288.87L1907.02 285.46L1914.40 285.12L1921.79 287.16L1921.79 292.11Z" fill="#008000" stroke="#008000" stroke-width="0.5" stroke-linejoin="round"/>
<path d="M1303.36 292.11L1303.36 292.11L1309.00 297.06L1314.09 292.11L1314.09 292.11ZM1321.72 292.11L1321.72 292.11L1323.76 292.96L1324.78 292.11L1324.78 292.11ZM1344.07 292.11L1344.07 292.11L1345.91 292.62L1353.30 309.34L1360.68 296.72L1368.06 296.04L1374.14 292.11L1374.14 292.11ZM1383.93 292.11L1383.93 292.11L1390.21 295.01L1395.44 292.11L1395.44 292.11ZM1416.44 292.11L1416.44 292.11L1419.74 295.01L1422.81 292.11L1422.81 292.11ZM1430.03 292.11L1430.03 292.11L1434.51 298.42L1438.92 292.11L1438.92 292.11ZM1467.61 292.11L1467.61 292.11L1471.42 297.40L1478.81 298.42L1486.19 292.62L1493.57 296.72L1498.11 292.11L1498.11 292.11ZM1512.48 292.11L1512.48 292.11L1515.72 297.06L1523.11 296.21L1528.48 292.11L1528.48 292.11ZM1531.09 292.11L1531.09 292.11L1537.87 309.34L1545.25 295.69L1548.42 292.11L1548.42 292.11ZM1567.12 292.11L1567.12 292.11L1567.40 292.28L1574.79 293.99L1582.17 293.65L1589.55 303.54L1594.99 292.11L1594.99 292.11ZM1606.90 292.11L1606.90 292.11L1611.70 294.33L1619.08 294.16L1621.62 292.11L1621.62 292.11ZM1633.00 292.11L1633.00 292.11L1633.85 292.62L1634.90 292.11L1634.90 292.11ZM1645.52 292.11L1645.52 292.11L1648.62 294.33L1656.00 292.62L1657.10 292.11L1657.10 292.11ZM1687.89 292.11L1687.89 292.11L1692.91 300.47L1698.95 292.11L1698.95 292.11ZM1708.56 292.11L1708.56 292.11L1715.06 298.42L1722.45 297.57L1729.83 292.96L1737.21 297.74L1744.60 295.69L1750.14 292.11L1750.14 292.11ZM1771.89 292.11L1771.89 292.11L1774.13 295.01L1781.51 296.38L1788.10 292.11L1788.10 292.11ZM1820.00 292.11L1820.00 292.11L1825.81 293.99L1833.19 301.84L1840.57 304.22L1846.97 292.11L1846.97 292.11ZM1853.03 292.11L1853.03 292.11L1855.34 292.96L1856.42 292.11L1856.42 292.11ZM1890.08 292.11L1890.08 292.11L1892.26 294.33L1895.26 292.11L1895.26 292.11Z" fill="#ff0000" stroke="#ff0000" stroke-width="0.5" stroke-linejoin="round"/>
<line x1="1264.70" x2="1264.70" y1="316.52" y2="324.12" stroke="#000" stroke-width="2.0"/>
<line x1="1368.06" x2="1368.06" y1="316.52" y2="324.12" stroke="#000" stroke-width="2.0"/>
<line x1="1493.57" x2="1493.57" y1="316.52" y2="324.12" stroke="#000" stroke-width="2.0"/>
<line x1="1596.93" x2="1596.93" y1="316.52" y2="324.12" stroke="#000" stroke-width="2.0"/>
<line x1="1722.45" x2="1722.45" y1="316.52" y2="324.12" stroke="#000" stroke-width="2.0"/>
<line x1="1825.81" x2="1825.81" y1="316.52" y2="324.12" stroke="#000" stroke-width="2.0"/>
<line x1="1943.94" x2="1943.94" y1="316.52" y2="324.12" stroke="#000" stroke-width="2.0"/>
<rect x="1231.60" y="282.62" width="723.00" height="33.90" fill="none" stroke="#000" stroke-width="2.0"/>
<path d="M1268.26 332.96L1268.26 332.96L1272.08 328.02L1279.47 329.89L1286.85 331.60L1294.23 330.24L1299.59 332.96L1299.59 332.96ZM1326.67 332.96L1326.67 332.96L1331.15 327.16L1338.53 331.94L1340.74 332.96L1340.74 332.96ZM1370.96 332.96L1370.96 332.96L1375.45 328.19L1382.83 328.87L1389.63 332.96L1389.63 332.96ZM1399.45 332.96L1399.45 332.96L1404.98 329.89L1412.36 329.55L1419.74 330.24L1427.13 330.92L1434.51 332.45L1441.89 330.24L1449.28 328.19L1453.76 332.96L1453.76 332.96ZM1459.99 332.96L1459.99 332.96L1464.04 329.21L1466.17 332.96L1466.17 332.96ZM1476.29 332.96L1476.29 332.96L1478.81 328.19L1486.19 330.24L1489.46 332.96L1489.46 332.96ZM1497.69 332.96L1497.69 332.96L1500.96 330.24L1504.89 332.96L1504.89 332.96ZM1527.55 332.96L1527.55 332.96L1530.49 331.60L1531.12 332.96L1531.12 332.96ZM1544.22 332.96L1544.22 332.96L1545.25 330.58L1552.64 327.16L1560.02 332.96L1560.02 332.96ZM1595.55 332.96L1595.55 332.96L1596.93 330.24L1601.84 332.96L1601.84 332.96ZM1621.96 332.96L1621.96 332.96L1626.47 329.21L1631.88 332.96L1631.88 332.96ZM1636.81 332.96L1636.81 332.96L1641.23 330.92L1648.62 328.19L1653.78 332.96L1653.78 332.96ZM1658.61 332.96L1658.61 332.96L1663.38 329.21L1665.77 332.96L1665.77 332.96ZM1674.81 332.96L1674.81 332.96L1678.15 326.48L1685.53 325.46L1689.98 332.96L1689.98 332.96ZM1697.11 332.96L1697.11 332.96L1700.30 329.21L1707.68 329.55L1710.06 332.96L1710.06 332.96ZM1747.08 332.96L1747.08 332.96L1751.98 330.92L1753.90 332.96L1753.90 332.96ZM1763.84 332.96L1763.84 332.96L1766.74 329.21L1769.54 332.96L1769.54 332.96ZM1778.79 332.96L1778.79 332.96L1781.51 329.38L1787.70 332.96L1787.70 332.96ZM1789.74 332.96L1789.74 332.96L1796.28 327.68L1803.66 331.60L1806.34 332.96L1806.34 332.96ZM1819.38 332.96L1819.38 332.96L1825.81 330.58L1827.53 332.96L1827.53 332.96ZM1846.30 332.96L1846.30 332.96L1847.96 329.89L1853.99 332.96L1853.99 332.96ZM1856.41 332.96L1856.41 332.96L1862.72 328.87L1870.11 326.14L1877.49 325.46L1884.87 328.19L1892.26 331.26L1899.64 331.26L1907.02 324.78L1914.40 325.46L1921.79 326.14L1921.79 332.96Z" fill="#008000" stroke="#008000" stroke-width="0.5" stroke-linejoin="round"/>
<path d="M1264.70 332.96L1264.70 337.57L1268.26 332.96L1268.26 332.96ZM1299.59 332.96L1299.59 332.96L1301.62 333.99L1309.00 342.69L1316.38 332.96L1316.38 332.96ZM1316.38 332.96L1316.38 332.96L1323.76 336.72L1326.67 332.96L1326.67 332.96ZM1340.74 332.96L1340.74 332.96L1345.91 335.35L1353.30 341.66L1360.68 336.72L1368.06 336.04L1370.96 332.96L1370.96 332.96ZM1389.63 332.96L1389.63 332.96L1390.21 333.31L1397.59 333.99L1399.45 332.96L1399.45 332.96ZM1453.76 332.96L1453.76 332.96L1456.66 336.04L1459.99 332.96L1459.99 332.96ZM1466.17 332.96L1466.17 332.96L1471.42 342.18L1476.29 332.96L1476.29 332.96ZM1489.46 332.96L1489.46 332.96L1493.57 336.38L1497.69 332.96L1497.69 332.96ZM1504.89 332.96L1504.89 332.96L1508.34 335.35L1515.72 333.65L1523.11 335.01L1527.55 332.96L1527.55 332.96ZM1531.12 332.96L1531.12 332.96L1537.87 347.64L1544.22 332.96L1544.22 332.96ZM1560.02 332.96L1560.02 332.96L1567.40 335.01L1574.79 333.31L1582.17 333.31L1589.55 344.74L1595.55 332.96L1595.55 332.96ZM1601.84 332.96L1601.84 332.96L1604.32 334.33L1611.70 333.99L1619.08 335.35L1621.96 332.96L1621.96 332.96ZM1631.88 332.96L1631.88 332.96L1633.85 334.33L1636.81 332.96L1636.81 332.96ZM1653.78 332.96L1653.78 332.96L1656.00 335.01L1658.61 332.96L1658.61 332.96ZM1665.77 332.96L1665.77 332.96L1670.77 340.81L1674.81 332.96L1674.81 332.96ZM1689.98 332.96L1689.98 332.96L1692.91 337.91L1697.11 332.96L1697.11 332.96ZM1710.06 332.96L1710.06 332.96L1715.06 340.13L1722.45 345.08L1729.83 334.33L1737.21 338.08L1744.60 333.99L1747.08 332.96L1747.08 332.96ZM1753.90 332.96L1753.90 332.96L1759.36 338.76L1763.84 332.96L1763.84 332.96ZM1769.54 332.96L1769.54 332.96L1774.13 339.11L1778.79 332.96L1778.79 332.96ZM1787.70 332.96L1787.70 332.96L1788.89 333.65L1789.74 332.96L1789.74 332.96ZM1806.34 332.96L1806.34 332.96L1811.04 335.35L1818.43 333.31L1819.38 332.96L1819.38 332.96ZM1827.53 332.96L1827.53 332.96L1833.19 340.81L1840.57 343.54L1846.30 332.96L1846.30 332.96ZM1853.99 332.96L1853.99 332.96L1855.34 333.65L1856.41 332.96L1856.41 332.96Z" fill="#ff0000" stroke="#ff0000" stroke-width="0.5" stroke-linejoin="round"/>
<line x1="1264.70" x2="1264.70" y1="357.00" y2="364.60" stroke="#000" stroke-width="2.0"/>
<line x1="1368.06" x2="1368.06" y1="357.00" y2="364.60" stroke="#000" stroke-width="2.0"/>
<line x1="1493.57" x2="1493.57" y1="357.00" y2="364.60" stroke="#000" stroke-width="2.0"/>
<line x1="1596.93" x2="1596.93" y1="357.00" y2="364.60" stroke="#000" stroke-width="2.0"/>
<line x1="1722.45" x2="1722.45" y1="357.00" y2="364.60" stroke="#000" stroke-width="2.0"/>
<line x1="1825.81" x2="1825.81" y1="357.00" y2="364.60" stroke="#000" stroke-width="2.0"/>
<line x1="1943.94" x2="1943.94" y1="357.00" y2="364.60" stroke="#000" stroke-width="2.0"/>
<rect x="1231.60" y="323.10" width="723.00" height="33.90" fill="none" stroke="#000" stroke-width="2.0"/>
<path d="M1272.08 371.75L1272.08 367.48L1279.47 368.51L1286.85 369.87L1294.23 367.48L1301.62 370.89L1302.55 371.75L1302.55 371.75ZM1332.53 371.75L1332.53 371.75L1338.53 369.53L1345.91 371.58L1346.01 371.75L1346.01 371.75ZM1364.37 371.75L1364.37 371.75L1368.06 371.24L1375.45 368.34L1382.83 369.87L1390.21 371.24L1397.59 370.89L1404.98 371.24L1412.36 370.55L1419.74 366.46L1427.13 370.89L1428.56 371.75L1428.56 371.75ZM1439.67 371.75L1439.67 371.75L1441.89 370.21L1449.28 370.55L1456.66 368.51L1464.04 369.19L1466.45 371.75L1466.45 371.75ZM1475.00 371.75L1475.00 371.75L1478.81 366.12L1486.19 369.19L1493.57 370.55L1500.96 367.48L1505.82 371.75L1505.82 371.75ZM1519.41 371.75L1519.41 371.75L1523.11 371.58L1524.34 371.75L1524.34 371.75ZM1542.67 371.75L1542.67 371.75L1545.25 365.78L1552.64 370.55L1560.02 368.16L1567.40 368.85L1574.79 370.21L1578.95 371.75L1578.95 371.75ZM1594.83 371.75L1594.83 371.75L1596.93 366.80L1602.04 371.75L1602.04 371.75ZM1609.63 371.75L1609.63 371.75L1611.70 370.89L1619.08 370.89L1626.47 368.16L1633.85 370.55L1641.23 371.24L1648.62 368.16L1652.70 371.75L1652.70 371.75ZM1663.71 371.75L1663.71 371.75L1670.77 368.16L1678.15 367.14L1685.53 366.46L1690.74 371.75L1690.74 371.75ZM1696.11 371.75L1696.11 371.75L1700.30 368.85L1707.68 369.19L1715.06 369.53L1716.59 371.75L1716.59 371.75ZM1729.15 371.75L1729.15 371.75L1729.83 370.89L1730.55 371.75L1730.55 371.75ZM1749.39 371.75L1749.39 371.75L1751.98 368.16L1759.36 371.58L1766.74 370.89L1767.67 371.75L1767.67 371.75ZM1780.93 371.75L1780.93 371.75L1781.51 371.24L1784.28 371.75L1784.28 371.75ZM1791.19 371.75L1791.19 371.75L1796.28 369.87L1803.66 370.89L1811.04 371.06L1818.43 371.41L1825.81 371.58L1825.99 371.75L1825.99 371.75ZM1850.33 371.75L1850.33 371.75L1855.34 368.51L1862.72 366.12L1870.11 366.46L1877.49 366.46L1884.87 368.16L1889.73 371.75L1889.73 371.75ZM1894.39 371.75L1894.39 371.75L1899.64 367.14L1907.02 366.80L1914.40 368.16L1914.40 371.75Z" fill="#008000" stroke="#008000" stroke-width="0.5" stroke-linejoin="round"/>
<path d="M1302.55 371.75L1302.55 371.75L1309.00 377.72L1316.38 375.16L1323.76 378.06L1331.15 372.26L1332.53 371.75L1332.53 371.75ZM1346.01 371.75L1346.01 371.75L1353.30 383.69L1360.68 372.26L1364.37 371.75L1364.37 371.75ZM1428.56 371.75L1428.56 371.75L1434.51 375.33L1439.67 371.75L1439.67 371.75ZM1466.45 371.75L1466.45 371.75L1471.42 377.04L1475.00 371.75L1475.00 371.75ZM1505.82 371.75L1505.82 371.75L1508.34 373.96L1515.72 371.92L1519.41 371.75L1519.41 371.75ZM1524.34 371.75L1524.34 371.75L1530.49 372.60L1537.87 382.84L1542.67 371.75L1542.67 371.75ZM1578.95 371.75L1578.95 371.75L1582.17 372.94L1589.55 384.20L1594.83 371.75L1594.83 371.75ZM1602.04 371.75L1602.04 371.75L1604.32 373.96L1609.63 371.75L1609.63 371.75ZM1652.70 371.75L1652.70 371.75L1656.00 374.65L1663.38 371.92L1663.71 371.75L1663.71 371.75ZM1690.74 371.75L1690.74 371.75L1692.91 373.96L1696.11 371.75L1696.11 371.75ZM1716.59 371.75L1716.59 371.75L1722.45 380.28L1729.15 371.75L1729.15 371.75ZM1730.55 371.75L1730.55 371.75L1737.21 379.76L1744.60 378.40L1749.39 371.75L1749.39 371.75ZM1767.67 371.75L1767.67 371.75L1774.13 377.72L1780.93 371.75L1780.93 371.75ZM1784.28 371.75L1784.28 371.75L1788.89 372.60L1791.19 371.75L1791.19 371.75ZM1825.99 371.75L1825.99 371.75L1833.19 378.74L1840.57 382.84L1847.96 373.28L1850.33 371.75L1850.33 371.75ZM1889.73 371.75L1889.73 371.75L1892.26 373.62L1894.39 371.75L1894.39 371.75Z" fill="#ff0000" stroke="#ff0000" stroke-width="0.5" stroke-linejoin="round"/>
<line x1="1264.70" x2="1264.70" y1="397.48" y2="405.08" stroke="#000" stroke-width="2.0"/>
<line x1="1368.06" x2="1368.06" y1="397.48" y2="405.08" stroke="#000" stroke-width="2.0"/>
<line x1="1493.57" x2="1493.57" y1="397.48" y2="405.08" stroke="#000" stroke-width="2.0"/>
<line x1="1596.93" x2="1596.93" y1="397.48" y2="405.08" stroke="#000" stroke-width="2.0"/>
<line x1="1722.45" x2="1722.45" y1="397.48" y2="405.08" stroke="#000" stroke-width="2.0"/>
<line x1="1825.81" x2="1825.81" y1="397.48" y2="405.08" stroke="#000" stroke-width="2.0"/>
<line x1="1943.94" x2="1943.94" y1="397.48" y2="405.08" stroke="#000" stroke-width="2.0"/>
<rect x="1231.60" y="363.58" width="723.00" height="33.90" fill="none" stroke="#000" stroke-width="2.0"/>
<path d="M1272.08 416.86L1272.08 413.28L1279.47 413.28L1286.85 413.45L1294.23 413.45L1299.70 416.86L1299.70 416.86ZM1326.15 416.86L1326.15 416.86L1331.15 413.28L1333.91 416.86L1333.91 416.86ZM1344.41 416.86L1344.41 416.86L1345.91 415.33L1346.84 416.86L1346.84 416.86ZM1360.34 416.86L1360.34 416.86L1360.68 416.35L1361.08 416.86L1361.08 416.86ZM1376.57 416.86L1376.57 416.86L1382.83 413.96L1390.21 414.31L1397.59 414.65L1402.91 416.86L1402.91 416.86ZM1405.64 416.86L1405.64 416.86L1412.36 408.16L1419.74 409.19L1427.13 416.35L1434.51 416.01L1441.89 410.89L1449.28 415.33L1456.66 413.96L1464.04 409.87L1468.36 416.86L1468.36 416.86ZM1487.44 416.86L1487.44 416.86L1493.57 414.31L1500.96 409.87L1506.18 416.86L1506.18 416.86ZM1512.83 416.86L1512.83 416.86L1515.72 414.99L1519.10 416.86L1519.10 416.86ZM1546.84 416.86L1546.84 416.86L1552.64 411.24L1560.02 409.87L1567.40 412.60L1574.79 413.28L1580.74 416.86L1580.74 416.86ZM1594.07 416.86L1594.07 416.86L1596.93 411.24L1601.44 416.86L1601.44 416.86ZM1607.85 416.86L1607.85 416.86L1611.70 412.94L1616.16 416.86L1616.16 416.86ZM1621.72 416.86L1621.72 416.86L1626.47 412.26L1633.85 414.99L1639.62 416.86L1639.62 416.86ZM1641.86 416.86L1641.86 416.86L1648.62 411.24L1652.67 416.86L1652.67 416.86ZM1661.87 416.86L1661.87 416.86L1663.38 415.67L1664.13 416.86L1664.13 416.86ZM1676.03 416.86L1676.03 416.86L1678.15 412.60L1683.00 416.86L1683.00 416.86ZM1698.50 416.86L1698.50 416.86L1700.30 414.99L1707.68 416.69L1707.80 416.86L1707.80 416.86ZM1736.70 416.86L1736.70 416.86L1737.21 416.01L1744.60 416.35L1751.98 412.26L1756.04 416.86L1756.04 416.86ZM1764.29 416.86L1764.29 416.86L1766.74 414.99L1767.81 416.86L1767.81 416.86ZM1782.92 416.86L1782.92 416.86L1788.89 414.65L1796.28 415.33L1801.79 416.86L1801.79 416.86ZM1813.12 416.86L1813.12 416.86L1818.43 412.94L1820.60 416.86L1820.60 416.86ZM1832.16 416.86L1832.16 416.86L1833.19 415.33L1834.22 416.86L1834.22 416.86ZM1847.83 416.86L1847.83 416.86L1847.96 416.69L1855.34 414.65L1862.72 412.60L1870.11 410.89L1877.49 408.16L1884.87 412.94L1892.26 415.33L1899.64 412.94L1907.02 408.85L1914.40 413.62L1921.79 408.85L1921.79 416.86Z" fill="#008000" stroke="#008000" stroke-width="0.5" stroke-linejoin="round"/>
<path d="M1299.70 416.86L1299.70 416.86L1301.62 418.06L1309.00 424.37L1316.38 417.38L1323.76 418.57L1326.15 416.86L1326.15 416.86ZM1333.91 416.86L1333.91 416.86L1338.53 422.84L1344.41 416.86L1344.41 416.86ZM1346.84 416.86L1346.84 416.86L1353.30 427.44L1360.34 416.86L1360.34 416.86ZM1361.08 416.86L1361.08 416.86L1368.06 425.74L1375.45 417.38L1376.57 416.86L1376.57 416.86ZM1402.91 416.86L1402.91 416.86L1404.98 417.72L1405.64 416.86L1405.64 416.86ZM1468.36 416.86L1468.36 416.86L1471.42 421.81L1478.81 418.40L1486.19 417.38L1487.44 416.86L1487.44 416.86ZM1506.18 416.86L1506.18 416.86L1508.34 419.76L1512.83 416.86L1512.83 416.86ZM1519.10 416.86L1519.10 416.86L1523.11 419.08L1530.49 418.06L1537.87 427.61L1545.25 418.40L1546.84 416.86L1546.84 416.86ZM1580.74 416.86L1580.74 416.86L1582.17 417.72L1589.55 425.74L1594.07 416.86L1594.07 416.86ZM1601.44 416.86L1601.44 416.86L1604.32 420.45L1607.85 416.86L1607.85 416.86ZM1616.16 416.86L1616.16 416.86L1619.08 419.42L1621.72 416.86L1621.72 416.86ZM1639.62 416.86L1639.62 416.86L1641.23 417.38L1641.86 416.86L1641.86 416.86ZM1652.67 416.86L1652.67 416.86L1656.00 421.47L1661.87 416.86L1661.87 416.86ZM1664.13 416.86L1664.13 416.86L1670.77 427.44L1676.03 416.86L1676.03 416.86ZM1683.00 416.86L1683.00 416.86L1685.53 419.08L1692.91 422.66L1698.50 416.86L1698.50 416.86ZM1707.80 416.86L1707.80 416.86L1715.06 426.93L1722.45 427.95L1729.83 428.29L1736.70 416.86L1736.70 416.86ZM1756.04 416.86L1756.04 416.86L1759.36 420.62L1764.29 416.86L1764.29 416.86ZM1767.81 416.86L1767.81 416.86L1774.13 427.95L1781.51 417.38L1782.92 416.86L1782.92 416.86ZM1801.79 416.86L1801.79 416.86L1803.66 417.38L1811.04 418.40L1813.12 416.86L1813.12 416.86ZM1820.60 416.86L1820.60 416.86L1825.81 426.25L1832.16 416.86L1832.16 416.86ZM1834.22 416.86L1834.22 416.86L1840.57 426.25L1847.83 416.86L1847.83 416.86Z" fill="#ff0000" stroke="#ff0000" stroke-width="0.5" stroke-linejoin="round"/>
<line x1="1264.70" x2="1264.70" y1="437.96" y2="445.56" stroke="#000" stroke-width="2.0"/>
<line x1="1368.06" x2="1368.06" y1="437.96" y2="445.56" stroke="#000" stroke-width="2.0"/>
<line x1="1493.57" x2="1493.57" y1="437.96" y2="445.56" stroke="#000" stroke-width="2.0"/>
<line x1="1596.93" x2="1596.93" y1="437.96" y2="445.56" stroke="#000" stroke-width="2.0"/>
<line x1="1722.45" x2="1722.45" y1="437.96" y2="445.56" stroke="#000" stroke-width="2.0"/>
<line x1="1825.81" x2="1825.81" y1="437.96" y2="445.56" stroke="#000" stroke-width="2.0"/>
<line x1="1943.94" x2="1943.94" y1="437.96" y2="445.56" stroke="#000" stroke-width="2.0"/>
<rect x="1231.60" y="404.06" width="723.00" height="33.90" fill="none" stroke="#000" stroke-width="2.0"/>
<path d="M1283.30 453.60L1283.30 453.60L1286.85 451.38L1294.23 450.19L1301.62 453.60L1301.62 453.60ZM1316.79 453.60L1316.79 453.60L1323.76 447.80L1331.15 449.51L1338.53 450.87L1345.91 452.24L1353.30 447.97L1360.26 453.60L1360.26 453.60ZM1373.12 453.60L1373.12 453.60L1375.45 449.68L1382.83 449.16L1390.21 453.60L1390.21 453.60ZM1390.21 453.60L1390.21 453.60L1397.59 453.26L1404.98 452.24L1412.36 452.24L1413.99 453.60L1413.99 453.60ZM1426.21 453.60L1426.21 453.60L1427.13 452.92L1428.15 453.60L1428.15 453.60ZM1440.46 453.60L1440.46 453.60L1441.89 452.58L1449.28 451.21L1453.25 453.60L1453.25 453.60ZM1459.19 453.60L1459.19 453.60L1464.04 449.68L1467.81 453.60L1467.81 453.60ZM1482.72 453.60L1482.72 453.60L1486.19 450.87L1491.56 453.60L1491.56 453.60ZM1505.66 453.60L1505.66 453.60L1508.34 450.87L1515.72 449.16L1521.38 453.60L1521.38 453.60ZM1553.77 453.60L1553.77 453.60L1560.02 449.85L1567.40 450.87L1574.79 451.21L1577.04 453.60L1577.04 453.60ZM1595.14 453.60L1595.14 453.60L1596.93 449.68L1600.13 453.60L1600.13 453.60ZM1610.15 453.60L1610.15 453.60L1611.70 452.24L1615.92 453.60L1615.92 453.60ZM1621.29 453.60L1621.29 453.60L1626.47 451.21L1633.85 451.89L1636.49 453.60L1636.49 453.60ZM1644.25 453.60L1644.25 453.60L1648.62 449.16L1655.48 453.60L1655.48 453.60ZM1674.62 453.60L1674.62 453.60L1678.15 449.85L1685.53 449.51L1689.55 453.60L1689.55 453.60ZM1698.60 453.60L1698.60 453.60L1700.30 452.58L1707.68 453.60L1707.68 453.60ZM1727.20 453.60L1727.20 453.60L1729.83 449.16L1732.53 453.60L1732.53 453.60ZM1749.03 453.60L1749.03 453.60L1751.98 450.87L1756.52 453.60L1756.52 453.60ZM1761.21 453.60L1761.21 453.60L1766.74 448.48L1771.36 453.60L1771.36 453.60ZM1778.87 453.60L1778.87 453.60L1781.51 451.89L1786.79 453.60L1786.79 453.60ZM1790.53 453.60L1790.53 453.60L1796.28 451.21L1803.66 451.38L1806.97 453.60L1806.97 453.60ZM1850.06 453.60L1850.06 453.60L1855.34 450.19L1862.72 451.55L1870.11 449.16L1877.49 447.12L1884.87 449.51L1892.26 449.85L1899.64 451.89L1907.02 445.75L1914.40 446.78L1914.40 453.60Z" fill="#008000" stroke="#008000" stroke-width="0.5" stroke-linejoin="round"/>
<path d="M1279.47 453.60L1279.47 455.99L1283.30 453.60L1283.30 453.60ZM1301.62 453.60L1301.62 453.60L1309.00 461.11L1316.38 453.94L1316.79 453.60L1316.79 453.60ZM1360.26 453.60L1360.26 453.60L1360.68 453.94L1368.06 462.13L1373.12 453.60L1373.12 453.60ZM1413.99 453.60L1413.99 453.60L1419.74 458.38L1426.21 453.60L1426.21 453.60ZM1428.15 453.60L1428.15 453.60L1434.51 457.86L1440.46 453.60L1440.46 453.60ZM1453.25 453.60L1453.25 453.60L1456.66 455.65L1459.19 453.60L1459.19 453.60ZM1467.81 453.60L1467.81 453.60L1471.42 457.35L1478.81 456.67L1482.72 453.60L1482.72 453.60ZM1491.56 453.60L1491.56 453.60L1493.57 454.62L1500.96 458.38L1505.66 453.60L1505.66 453.60ZM1521.38 453.60L1521.38 453.60L1523.11 454.96L1530.49 455.99L1537.87 463.15L1545.25 458.04L1552.64 454.28L1553.77 453.60L1553.77 453.60ZM1577.04 453.60L1577.04 453.60L1582.17 459.06L1589.55 465.88L1595.14 453.60L1595.14 453.60ZM1600.13 453.60L1600.13 453.60L1604.32 458.72L1610.15 453.60L1610.15 453.60ZM1615.92 453.60L1615.92 453.60L1619.08 454.62L1621.29 453.60L1621.29 453.60ZM1636.49 453.60L1636.49 453.60L1641.23 456.67L1644.25 453.60L1644.25 453.60ZM1655.48 453.60L1655.48 453.60L1656.00 453.94L1663.38 454.28L1670.77 457.69L1674.62 453.60L1674.62 453.60ZM1689.55 453.60L1689.55 453.60L1692.91 457.01L1698.60 453.60L1698.60 453.60ZM1707.68 453.60L1707.68 453.60L1715.06 455.65L1722.45 461.62L1727.20 453.60L1727.20 453.60ZM1732.53 453.60L1732.53 453.60L1737.21 461.28L1744.60 457.69L1749.03 453.60L1749.03 453.60ZM1756.52 453.60L1756.52 453.60L1759.36 455.31L1761.21 453.60L1761.21 453.60ZM1771.36 453.60L1771.36 453.60L1774.13 456.67L1778.87 453.60L1778.87 453.60ZM1786.79 453.60L1786.79 453.60L1788.89 454.28L1790.53 453.60L1790.53 453.60ZM1806.97 453.60L1806.97 453.60L1811.04 456.33L1818.43 454.28L1825.81 454.62L1833.19 454.62L1840.57 459.40L1847.96 454.96L1850.06 453.60L1850.06 453.60Z" fill="#ff0000" stroke="#ff0000" stroke-width="0.5" stroke-linejoin="round"/>
<line x1="1264.70" x2="1264.70" y1="478.44" y2="486.04" stroke="#000" stroke-width="2.0"/>
<line x1="1368.06" x2="1368.06" y1="478.44" y2="486.04" stroke="#000" stroke-width="2.0"/>
<line x1="1493.57" x2="1493.57" y1="478.44" y2="486.04" stroke="#000" stroke-width="2.0"/>
<line x1="1596.93" x2="1596.93" y1="478.44" y2="486.04" stroke="#000" stroke-width="2.0"/>
<line x1="1722.45" x2="1722.45" y1="478.44" y2="486.04" stroke="#000" stroke-width="2.0"/>
<line x1="1825.81" x2="1825.81" y1="478.44" y2="486.04" stroke="#000" stroke-width="2.0"/>
<line x1="1943.94" x2="1943.94" y1="478.44" y2="486.04" stroke="#000" stroke-width="2.0"/>
<rect x="1231.60" y="444.54" width="723.00" height="33.90" fill="none" stroke="#000" stroke-width="2.0"/>
<path d="M1281.93 494.28L1281.93 494.28L1286.85 493.26L1294.23 491.38L1300.84 494.28L1300.84 494.28ZM1311.28 494.28L1311.28 494.28L1316.38 491.21L1323.76 492.24L1329.30 494.28L1329.30 494.28ZM1334.10 494.28L1334.10 494.28L1338.53 493.26L1345.91 489.16L1353.30 493.60L1354.93 494.28L1354.93 494.28ZM1369.03 494.28L1369.03 494.28L1375.45 487.46L1382.83 488.82L1390.21 494.28L1390.21 494.28ZM1412.02 494.28L1412.02 494.28L1412.36 493.94L1414.82 494.28L1414.82 494.28ZM1436.52 494.28L1436.52 494.28L1441.89 492.92L1449.28 493.60L1452.97 494.28L1452.97 494.28ZM1457.79 494.28L1457.79 494.28L1464.04 490.53L1466.50 494.28L1466.50 494.28ZM1476.20 494.28L1476.20 494.28L1478.81 490.19L1486.19 493.60L1493.57 491.21L1500.96 492.24L1508.34 492.92L1512.54 494.28L1512.54 494.28ZM1556.71 494.28L1556.71 494.28L1560.02 489.85L1567.40 493.60L1572.33 494.28L1572.33 494.28ZM1595.54 494.28L1595.54 494.28L1596.93 490.87L1604.32 492.92L1611.70 491.55L1619.08 493.26L1626.47 491.38L1633.85 491.21L1641.23 493.26L1648.62 490.53L1654.41 494.28L1654.41 494.28ZM1661.55 494.28L1661.55 494.28L1663.38 493.94L1670.77 492.92L1678.15 488.48L1685.53 490.19L1688.93 494.28L1688.93 494.28ZM1697.61 494.28L1697.61 494.28L1700.30 491.55L1706.21 494.28L1706.21 494.28ZM1762.92 494.28L1762.92 494.28L1766.74 489.16L1774.13 492.92L1777.81 494.28L1777.81 494.28ZM1783.36 494.28L1783.36 494.28L1788.89 490.19L1795.71 494.28L1795.71 494.28ZM1812.69 494.28L1812.69 494.28L1818.43 489.51L1825.81 493.94L1833.19 494.28L1833.19 494.28ZM1847.41 494.28L1847.41 494.28L1847.96 493.60L1855.34 491.55L1862.72 493.60L1870.11 488.14L1877.49 487.97L1884.87 492.58L1892.26 492.92L1899.64 491.21L1907.02 486.78L1914.40 487.46L1914.40 494.28Z" fill="#008000" stroke="#008000" stroke-width="0.5" stroke-linejoin="round"/>
<path d="M1272.08 494.28L1272.08 494.62L1279.47 494.79L1281.93 494.28L1281.93 494.28ZM1300.84 494.28L1300.84 494.28L1301.62 494.62L1309.00 495.65L1311.28 494.28L1311.28 494.28ZM1329.30 494.28L1329.30 494.28L1331.15 494.96L1334.10 494.28L1334.10 494.28ZM1354.93 494.28L1354.93 494.28L1360.68 496.67L1368.06 495.31L1369.03 494.28L1369.03 494.28ZM1390.21 494.28L1390.21 494.28L1397.59 496.33L1404.98 501.28L1412.02 494.28L1412.02 494.28ZM1414.82 494.28L1414.82 494.28L1419.74 494.96L1427.13 495.65L1434.51 494.79L1436.52 494.28L1436.52 494.28ZM1452.97 494.28L1452.97 494.28L1456.66 494.96L1457.79 494.28L1457.79 494.28ZM1466.50 494.28L1466.50 494.28L1471.42 501.79L1476.20 494.28L1476.20 494.28ZM1512.54 494.28L1512.54 494.28L1515.72 495.31L1523.11 498.72L1530.49 496.33L1537.87 505.54L1545.25 497.35L1552.64 499.74L1556.71 494.28L1556.71 494.28ZM1572.33 494.28L1572.33 494.28L1574.79 494.62L1582.17 494.62L1589.55 508.95L1595.54 494.28L1595.54 494.28ZM1654.41 494.28L1654.41 494.28L1656.00 495.31L1661.55 494.28L1661.55 494.28ZM1688.93 494.28L1688.93 494.28L1692.91 499.06L1697.61 494.28L1697.61 494.28ZM1706.21 494.28L1706.21 494.28L1707.68 494.96L1715.06 499.74L1722.45 504.52L1729.83 497.69L1737.21 505.54L1744.60 498.72L1751.98 496.33L1759.36 499.06L1762.92 494.28L1762.92 494.28ZM1777.81 494.28L1777.81 494.28L1781.51 495.65L1783.36 494.28L1783.36 494.28ZM1795.71 494.28L1795.71 494.28L1796.28 494.62L1803.66 494.45L1811.04 495.65L1812.69 494.28L1812.69 494.28ZM1833.19 494.28L1833.19 494.28L1840.57 502.81L1847.41 494.28L1847.41 494.28Z" fill="#ff0000" stroke="#ff0000" stroke-width="0.5" stroke-linejoin="round"/>
<line x1="1264.70" x2="1264.70" y1="518.92" y2="526.52" stroke="#000" stroke-width="2.0"/>
<line x1="1368.06" x2="1368.06" y1="518.92" y2="526.52" stroke="#000" stroke-width="2.0"/>
<line x1="1493.57" x2="1493.57" y1="518.92" y2="526.52" stroke="#000" stroke-width="2.0"/>
<line x1="1596.93" x2="1596.93" y1="518.92" y2="526.52" stroke="#000" stroke-width="2.0"/>
<line x1="1722.45" x2="1722.45" y1="518.92" y2="526.52" stroke="#000" stroke-width="2.0"/>
<line x1="1825.81" x2="1825.81" y1="518.92" y2="526.52" stroke="#000" stroke-width="2.0"/>
<line x1="1943.94" x2="1943.94" y1="518.92" y2="526.52" stroke="#000" stroke-width="2.0"/>
<rect x="1231.60" y="485.02" width="723.00" height="33.90" fill="none" stroke="#000" stroke-width="2.0"/>
<path d="M1279.47 535.79L1279.47 529.48L1286.85 533.92L1294.23 530.85L1301.37 535.79L1301.37 535.79ZM1312.69 535.79L1312.69 535.79L1316.38 531.19L1320.07 535.79L1320.07 535.79ZM1328.76 535.79L1328.76 535.79L1331.15 533.58L1338.53 532.21L1345.91 534.60L1346.60 535.79L1346.60 535.79ZM1372.89 535.79L1372.89 535.79L1375.45 531.19L1382.83 534.94L1390.21 534.94L1391.88 535.79L1391.88 535.79ZM1402.08 535.79L1402.08 535.79L1404.98 533.92L1412.36 533.58L1416.35 535.79L1416.35 535.79ZM1429.79 535.79L1429.79 535.79L1434.51 534.26L1441.89 531.19L1449.02 535.79L1449.02 535.79ZM1459.17 535.79L1459.17 535.79L1464.04 530.16L1471.42 534.26L1478.81 533.24L1486.19 535.62L1493.57 532.55L1500.96 535.28L1508.34 534.26L1510.89 535.79L1510.89 535.79ZM1529.11 535.79L1529.11 535.79L1530.49 535.28L1530.80 535.79L1530.80 535.79ZM1551.35 535.79L1551.35 535.79L1552.64 534.60L1560.02 535.62L1567.40 533.58L1574.79 531.87L1580.44 535.79L1580.44 535.79ZM1595.61 535.79L1595.61 535.79L1596.93 532.55L1604.32 532.21L1611.70 533.24L1616.30 535.79L1616.30 535.79ZM1620.84 535.79L1620.84 535.79L1626.47 530.85L1633.85 532.55L1641.23 532.89L1648.62 534.26L1656.00 535.28L1663.38 535.28L1663.63 535.79L1663.63 535.79ZM1676.61 535.79L1676.61 535.79L1678.15 531.87L1685.53 530.34L1692.91 535.28L1700.30 532.89L1707.68 533.92L1709.93 535.79L1709.93 535.79ZM1748.67 535.79L1748.67 535.79L1751.98 534.26L1756.12 535.79L1756.12 535.79ZM1761.09 535.79L1761.09 535.79L1766.74 531.87L1769.57 535.79L1769.57 535.79ZM1778.40 535.79L1778.40 535.79L1781.51 531.19L1787.36 535.79L1787.36 535.79ZM1793.22 535.79L1793.22 535.79L1796.28 534.94L1803.66 534.09L1806.03 535.79L1806.03 535.79ZM1814.28 535.79L1814.28 535.79L1818.43 531.19L1821.44 535.79L1821.44 535.79ZM1845.05 535.79L1845.05 535.79L1847.96 533.24L1855.34 533.92L1862.72 534.94L1870.11 530.16L1877.49 528.12L1884.87 531.53L1892.26 534.94L1899.64 533.58L1907.02 527.78L1914.40 534.60L1921.79 529.14L1921.79 535.79Z" fill="#008000" stroke="#008000" stroke-width="0.5" stroke-linejoin="round"/>
<path d="M1301.37 535.79L1301.37 535.79L1301.62 535.96L1309.00 540.40L1312.69 535.79L1312.69 535.79ZM1320.07 535.79L1320.07 535.79L1323.76 540.40L1328.76 535.79L1328.76 535.79ZM1346.60 535.79L1346.60 535.79L1353.30 547.39L1360.68 540.06L1368.06 544.49L1372.89 535.79L1372.89 535.79ZM1391.88 535.79L1391.88 535.79L1397.59 538.69L1402.08 535.79L1402.08 535.79ZM1416.35 535.79L1416.35 535.79L1419.74 537.67L1427.13 536.65L1429.79 535.79L1429.79 535.79ZM1449.02 535.79L1449.02 535.79L1449.28 535.96L1456.66 538.69L1459.17 535.79L1459.17 535.79ZM1510.89 535.79L1510.89 535.79L1515.72 538.69L1523.11 538.01L1529.11 535.79L1529.11 535.79ZM1530.80 535.79L1530.80 535.79L1537.87 547.39L1545.25 541.42L1551.35 535.79L1551.35 535.79ZM1580.44 535.79L1580.44 535.79L1582.17 536.99L1589.55 550.64L1595.61 535.79L1595.61 535.79ZM1616.30 535.79L1616.30 535.79L1619.08 537.33L1620.84 535.79L1620.84 535.79ZM1663.63 535.79L1663.63 535.79L1670.77 550.64L1676.61 535.79L1676.61 535.79ZM1709.93 535.79L1709.93 535.79L1715.06 540.06L1722.45 544.84L1729.83 540.91L1737.21 545.69L1744.60 537.67L1748.67 535.79L1748.67 535.79ZM1756.12 535.79L1756.12 535.79L1759.36 536.99L1761.09 535.79L1761.09 535.79ZM1769.57 535.79L1769.57 535.79L1774.13 542.11L1778.40 535.79L1778.40 535.79ZM1787.36 535.79L1787.36 535.79L1788.89 536.99L1793.22 535.79L1793.22 535.79ZM1806.03 535.79L1806.03 535.79L1811.04 539.38L1814.28 535.79L1814.28 535.79ZM1821.44 535.79L1821.44 535.79L1825.81 542.45L1833.19 542.79L1840.57 539.72L1845.05 535.79L1845.05 535.79Z" fill="#ff0000" stroke="#ff0000" stroke-width="0.5" stroke-linejoin="round"/>
<line x1="1264.70" x2="1264.70" y1="559.40" y2="567.00" stroke="#000" stroke-width="2.0"/>
<line x1="1368.06" x2="1368.06" y1="559.40" y2="567.00" stroke="#000" stroke-width="2.0"/>
<line x1="1493.57" x2="1493.57" y1="559.40" y2="567.00" stroke="#000" stroke-width="2.0"/>
<line x1="1596.93" x2="1596.93" y1="559.40" y2="567.00" stroke="#000" stroke-width="2.0"/>
<line x1="1722.45" x2="1722.45" y1="559.40" y2="567.00" stroke="#000" stroke-width="2.0"/>
<line x1="1825.81" x2="1825.81" y1="559.40" y2="567.00" stroke="#000" stroke-width="2.0"/>
<line x1="1943.94" x2="1943.94" y1="559.40" y2="567.00" stroke="#000" stroke-width="2.0"/>
<rect x="1231.60" y="525.50" width="723.00" height="33.90" fill="none" stroke="#000" stroke-width="2.0"/>
<path d="M1264.70 577.50L1264.70 576.65L1272.08 575.28L1274.48 577.50L1274.48 577.50ZM1284.71 577.50L1284.71 577.50L1286.85 575.62L1289.11 577.50L1289.11 577.50ZM1299.09 577.50L1299.09 577.50L1301.62 575.28L1307.62 577.50L1307.62 577.50ZM1314.54 577.50L1314.54 577.50L1316.38 577.33L1317.30 577.50L1317.30 577.50ZM1328.07 577.50L1328.07 577.50L1331.15 576.65L1338.53 574.94L1345.91 574.94L1347.59 577.50L1347.59 577.50ZM1373.35 577.50L1373.35 577.50L1375.45 572.55L1378.42 577.50L1378.42 577.50ZM1390.04 577.50L1390.04 577.50L1390.21 577.33L1397.59 573.58L1404.98 574.94L1412.36 571.19L1417.61 577.50L1417.61 577.50ZM1433.19 577.50L1433.19 577.50L1434.51 574.26L1441.52 577.50L1441.52 577.50ZM1460.67 577.50L1460.67 577.50L1464.04 572.21L1471.42 574.60L1476.45 577.50L1476.45 577.50ZM1499.94 577.50L1499.94 577.50L1500.96 576.65L1508.34 571.19L1514.03 577.50L1514.03 577.50ZM1561.14 577.50L1561.14 577.50L1567.40 570.85L1574.79 572.89L1579.77 577.50L1579.77 577.50ZM1596.66 577.50L1596.66 577.50L1596.93 576.99L1597.85 577.50L1597.85 577.50ZM1609.48 577.50L1609.48 577.50L1611.70 575.96L1619.08 575.62L1626.47 572.21L1633.85 575.96L1635.93 577.50L1635.93 577.50ZM1647.30 577.50L1647.30 577.50L1648.62 576.65L1656.00 576.31L1663.38 575.79L1665.50 577.50L1665.50 577.50ZM1674.18 577.50L1674.18 577.50L1678.15 572.55L1685.53 571.87L1692.91 576.99L1700.30 569.48L1707.68 573.24L1714.27 577.50L1714.27 577.50ZM1726.25 577.50L1726.25 577.50L1729.83 572.21L1736.98 577.50L1736.98 577.50ZM1737.67 577.50L1737.67 577.50L1744.60 574.94L1751.98 575.28L1755.41 577.50L1755.41 577.50ZM1761.34 577.50L1761.34 577.50L1766.74 570.51L1771.63 577.50L1771.63 577.50ZM1779.29 577.50L1779.29 577.50L1781.51 575.96L1784.53 577.50L1784.53 577.50ZM1790.67 577.50L1790.67 577.50L1796.28 570.51L1803.66 576.65L1806.73 577.50L1806.73 577.50ZM1812.03 577.50L1812.03 577.50L1818.43 569.82L1824.82 577.50L1824.82 577.50ZM1828.67 577.50L1828.67 577.50L1833.19 575.62L1834.23 577.50L1834.23 577.50ZM1850.59 577.50L1850.59 577.50L1855.34 572.89L1862.72 577.33L1870.11 571.19L1877.49 569.82L1882.04 577.50L1882.04 577.50ZM1899.20 577.50L1899.20 577.50L1899.64 576.99L1907.02 571.53L1911.33 577.50L1911.33 577.50ZM1917.20 577.50L1917.20 577.50L1921.79 570.51L1921.79 577.50Z" fill="#008000" stroke="#008000" stroke-width="0.5" stroke-linejoin="round"/>
<path d="M1274.48 577.50L1274.48 577.50L1279.47 582.11L1284.71 577.50L1284.71 577.50ZM1289.11 577.50L1289.11 577.50L1294.23 581.76L1299.09 577.50L1299.09 577.50ZM1307.62 577.50L1307.62 577.50L1309.00 578.01L1314.54 577.50L1314.54 577.50ZM1317.30 577.50L1317.30 577.50L1323.76 578.69L1328.07 577.50L1328.07 577.50ZM1347.59 577.50L1347.59 577.50L1353.30 586.20L1360.68 578.35L1368.06 589.95L1373.35 577.50L1373.35 577.50ZM1378.42 577.50L1378.42 577.50L1382.83 584.84L1390.04 577.50L1390.04 577.50ZM1417.61 577.50L1417.61 577.50L1419.74 580.06L1427.13 592.34L1433.19 577.50L1433.19 577.50ZM1441.52 577.50L1441.52 577.50L1441.89 577.67L1449.28 585.18L1456.66 583.81L1460.67 577.50L1460.67 577.50ZM1476.45 577.50L1476.45 577.50L1478.81 578.86L1486.19 577.67L1493.57 582.79L1499.94 577.50L1499.94 577.50ZM1514.03 577.50L1514.03 577.50L1515.72 579.38L1523.11 579.72L1530.49 584.32L1537.87 581.42L1545.25 579.72L1552.64 578.35L1560.02 578.69L1561.14 577.50L1561.14 577.50ZM1579.77 577.50L1579.77 577.50L1582.17 579.72L1589.55 591.15L1596.66 577.50L1596.66 577.50ZM1597.85 577.50L1597.85 577.50L1604.32 581.08L1609.48 577.50L1609.48 577.50ZM1635.93 577.50L1635.93 577.50L1641.23 581.42L1647.30 577.50L1647.30 577.50ZM1665.50 577.50L1665.50 577.50L1670.77 581.76L1674.18 577.50L1674.18 577.50ZM1714.27 577.50L1714.27 577.50L1715.06 578.01L1722.45 583.13L1726.25 577.50L1726.25 577.50ZM1736.98 577.50L1736.98 577.50L1737.21 577.67L1737.67 577.50L1737.67 577.50ZM1755.41 577.50L1755.41 577.50L1759.36 580.06L1761.34 577.50L1761.34 577.50ZM1771.63 577.50L1771.63 577.50L1774.13 581.08L1779.29 577.50L1779.29 577.50ZM1784.53 577.50L1784.53 577.50L1788.89 579.72L1790.67 577.50L1790.67 577.50ZM1806.73 577.50L1806.73 577.50L1811.04 578.69L1812.03 577.50L1812.03 577.50ZM1824.82 577.50L1824.82 577.50L1825.81 578.69L1828.67 577.50L1828.67 577.50ZM1834.23 577.50L1834.23 577.50L1840.57 588.93L1847.96 580.06L1850.59 577.50L1850.59 577.50ZM1882.04 577.50L1882.04 577.50L1884.87 582.28L1892.26 585.52L1899.20 577.50L1899.20 577.50ZM1911.33 577.50L1911.33 577.50L1914.40 581.76L1917.20 577.50L1917.20 577.50Z" fill="#ff0000" stroke="#ff0000" stroke-width="0.5" stroke-linejoin="round"/>
<line x1="1264.70" x2="1264.70" y1="599.88" y2="607.48" stroke="#000" stroke-width="2.0"/>
<line x1="1368.06" x2="1368.06" y1="599.88" y2="607.48" stroke="#000" stroke-width="2.0"/>
<line x1="1493.57" x2="1493.57" y1="599.88" y2="607.48" stroke="#000" stroke-width="2.0"/>
<line x1="1596.93" x2="1596.93" y1="599.88" y2="607.48" stroke="#000" stroke-width="2.0"/>
<line x1="1722.45" x2="1722.45" y1="599.88" y2="607.48" stroke="#000" stroke-width="2.0"/>
<line x1="1825.81" x2="1825.81" y1="599.88" y2="607.48" stroke="#000" stroke-width="2.0"/>
<line x1="1943.94" x2="1943.94" y1="599.88" y2="607.48" stroke="#000" stroke-width="2.0"/>
<rect x="1231.60" y="565.98" width="723.00" height="33.90" fill="none" stroke="#000" stroke-width="2.0"/>
<text x="1264.70" y="627.8" font-size="17.35" text-anchor="middle" font-family="DejaVu Sans, Liberation Sans, sans-serif">2022-07-01</text>
<text x="1368.06" y="627.8" font-size="17.35" text-anchor="middle" font-family="DejaVu Sans, Liberation Sans, sans-serif">2022-07-15</text>
<text x="1493.57" y="627.8" font-size="17.35" text-anchor="middle" font-family="DejaVu Sans, Liberation Sans, sans-serif">2022-08-01</text>
<text x="1596.93" y="627.8" font-size="17.35" text-anchor="middle" font-family="DejaVu Sans, Liberation Sans, sans-serif">2022-08-15</text>
<text x="1722.45" y="627.8" font-size="17.35" text-anchor="middle" font-family="DejaVu Sans, Liberation Sans, sans-serif">2022-09-01</text>
<text x="1825.81" y="627.8" font-size="17.35" text-anchor="middle" font-family="DejaVu Sans, Liberation Sans, sans-serif">2022-09-15</text>
<text x="1943.94" y="627.8" font-size="17.35" text-anchor="middle" font-family="DejaVu Sans, Liberation Sans, sans-serif">2022-10-01</text></svg></body></html>
